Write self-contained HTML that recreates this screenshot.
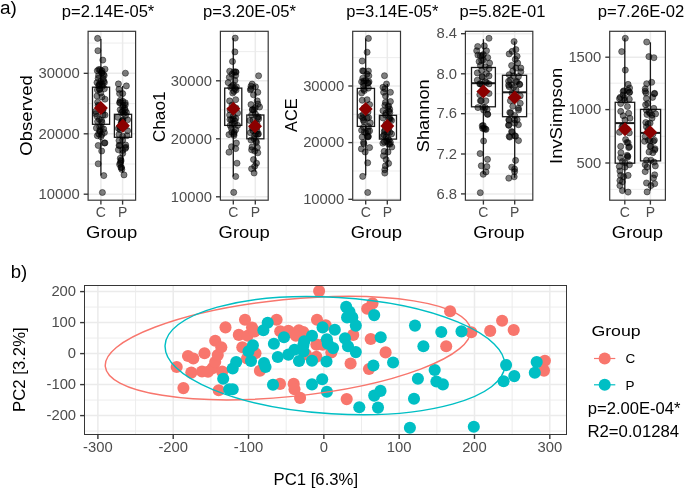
<!DOCTYPE html><html><head><meta charset="utf-8"><style>html,body{margin:0;padding:0;background:#fff;overflow:hidden}svg{display:block;will-change:transform}text{font-family:"Liberation Sans",sans-serif}</style></head><body>
<svg width="685" height="490" viewBox="0 0 685 490" font-family="Liberation Sans, sans-serif">
<rect width="685" height="490" fill="#fff"/>
<text x="0.05" y="13.70" font-size="18" fill="#000" text-anchor="start" textLength="16.87" lengthAdjust="spacingAndGlyphs" >a)</text>
<text x="10.69" y="278.40" font-size="18" fill="#000" text-anchor="start" textLength="16.50" lengthAdjust="spacingAndGlyphs" >b)</text>
<line x1="88.1" x2="135.6" y1="164.0" y2="164.0" stroke="#EBEBEB" stroke-width="0.9"/>
<line x1="88.1" x2="135.6" y1="103.6" y2="103.6" stroke="#EBEBEB" stroke-width="0.9"/>
<line x1="88.1" x2="135.6" y1="43.1" y2="43.1" stroke="#EBEBEB" stroke-width="0.9"/>
<line x1="88.1" x2="135.6" y1="194.2" y2="194.2" stroke="#EBEBEB" stroke-width="1.5"/>
<line x1="88.1" x2="135.6" y1="133.8" y2="133.8" stroke="#EBEBEB" stroke-width="1.5"/>
<line x1="88.1" x2="135.6" y1="73.35" y2="73.35" stroke="#EBEBEB" stroke-width="1.5"/>
<line x1="100.9" x2="100.9" y1="31.3" y2="200.2" stroke="#EBEBEB" stroke-width="1.5"/>
<line x1="122.6" x2="122.6" y1="31.3" y2="200.2" stroke="#EBEBEB" stroke-width="1.5"/>
<line x1="100.9" x2="100.9" y1="39" y2="87.2" stroke="#1a1a1a" stroke-width="1.3"/>
<line x1="100.9" x2="100.9" y1="124.3" y2="175.6" stroke="#1a1a1a" stroke-width="1.3"/>
<rect x="92.5" y="87.2" width="17.10" height="37.10" fill="#fff" stroke="#1a1a1a" stroke-width="1.3"/>
<line x1="122.6" x2="122.6" y1="86" y2="114.3" stroke="#1a1a1a" stroke-width="1.3"/>
<line x1="122.6" x2="122.6" y1="137.3" y2="172.6" stroke="#1a1a1a" stroke-width="1.3"/>
<rect x="114.4" y="114.3" width="17.20" height="23.00" fill="#fff" stroke="#1a1a1a" stroke-width="1.3"/>
<circle cx="101.7" cy="73.0" r="3.05" fill="#000" fill-opacity="0.5" stroke="#000" stroke-opacity="0.5" stroke-width="0.9"/>
<circle cx="97.6" cy="38.4" r="3.05" fill="#000" fill-opacity="0.5" stroke="#000" stroke-opacity="0.5" stroke-width="0.9"/>
<circle cx="97.9" cy="50.7" r="3.05" fill="#000" fill-opacity="0.5" stroke="#000" stroke-opacity="0.5" stroke-width="0.9"/>
<circle cx="102.8" cy="60.1" r="3.05" fill="#000" fill-opacity="0.5" stroke="#000" stroke-opacity="0.5" stroke-width="0.9"/>
<circle cx="97.3" cy="70.8" r="3.05" fill="#000" fill-opacity="0.5" stroke="#000" stroke-opacity="0.5" stroke-width="0.9"/>
<circle cx="100.1" cy="69.8" r="3.05" fill="#000" fill-opacity="0.5" stroke="#000" stroke-opacity="0.5" stroke-width="0.9"/>
<circle cx="105.0" cy="69.2" r="3.05" fill="#000" fill-opacity="0.5" stroke="#000" stroke-opacity="0.5" stroke-width="0.9"/>
<circle cx="101.9" cy="72.8" r="3.05" fill="#000" fill-opacity="0.5" stroke="#000" stroke-opacity="0.5" stroke-width="0.9"/>
<circle cx="98.2" cy="78.4" r="3.05" fill="#000" fill-opacity="0.5" stroke="#000" stroke-opacity="0.5" stroke-width="0.9"/>
<circle cx="103.1" cy="79.0" r="3.05" fill="#000" fill-opacity="0.5" stroke="#000" stroke-opacity="0.5" stroke-width="0.9"/>
<circle cx="97.0" cy="82.6" r="3.05" fill="#000" fill-opacity="0.5" stroke="#000" stroke-opacity="0.5" stroke-width="0.9"/>
<circle cx="100.7" cy="81.4" r="3.05" fill="#000" fill-opacity="0.5" stroke="#000" stroke-opacity="0.5" stroke-width="0.9"/>
<circle cx="104.4" cy="82.6" r="3.05" fill="#000" fill-opacity="0.5" stroke="#000" stroke-opacity="0.5" stroke-width="0.9"/>
<circle cx="99.4" cy="119.4" r="3.05" fill="#000" fill-opacity="0.5" stroke="#000" stroke-opacity="0.5" stroke-width="0.9"/>
<circle cx="98.8" cy="85.7" r="3.05" fill="#000" fill-opacity="0.5" stroke="#000" stroke-opacity="0.5" stroke-width="0.9"/>
<circle cx="102.5" cy="86.3" r="3.05" fill="#000" fill-opacity="0.5" stroke="#000" stroke-opacity="0.5" stroke-width="0.9"/>
<circle cx="124.6" cy="108.4" r="3.05" fill="#000" fill-opacity="0.5" stroke="#000" stroke-opacity="0.5" stroke-width="0.9"/>
<circle cx="103.4" cy="74.6" r="3.05" fill="#000" fill-opacity="0.5" stroke="#000" stroke-opacity="0.5" stroke-width="0.9"/>
<circle cx="99.5" cy="89.4" r="3.05" fill="#000" fill-opacity="0.5" stroke="#000" stroke-opacity="0.5" stroke-width="0.9"/>
<circle cx="104.4" cy="88.8" r="3.05" fill="#000" fill-opacity="0.5" stroke="#000" stroke-opacity="0.5" stroke-width="0.9"/>
<circle cx="100.7" cy="93.0" r="3.05" fill="#000" fill-opacity="0.5" stroke="#000" stroke-opacity="0.5" stroke-width="0.9"/>
<circle cx="120.2" cy="109.7" r="3.05" fill="#000" fill-opacity="0.5" stroke="#000" stroke-opacity="0.5" stroke-width="0.9"/>
<circle cx="102.2" cy="84.5" r="3.05" fill="#000" fill-opacity="0.5" stroke="#000" stroke-opacity="0.5" stroke-width="0.9"/>
<circle cx="105.0" cy="99.2" r="3.05" fill="#000" fill-opacity="0.5" stroke="#000" stroke-opacity="0.5" stroke-width="0.9"/>
<circle cx="97.6" cy="102.2" r="3.05" fill="#000" fill-opacity="0.5" stroke="#000" stroke-opacity="0.5" stroke-width="0.9"/>
<circle cx="95.8" cy="111.4" r="3.05" fill="#000" fill-opacity="0.5" stroke="#000" stroke-opacity="0.5" stroke-width="0.9"/>
<circle cx="123.6" cy="113.6" r="3.05" fill="#000" fill-opacity="0.5" stroke="#000" stroke-opacity="0.5" stroke-width="0.9"/>
<circle cx="97.0" cy="116.3" r="3.05" fill="#000" fill-opacity="0.5" stroke="#000" stroke-opacity="0.5" stroke-width="0.9"/>
<circle cx="105.0" cy="115.1" r="3.05" fill="#000" fill-opacity="0.5" stroke="#000" stroke-opacity="0.5" stroke-width="0.9"/>
<circle cx="95.8" cy="113.7" r="3.05" fill="#000" fill-opacity="0.5" stroke="#000" stroke-opacity="0.5" stroke-width="0.9"/>
<circle cx="103.1" cy="114.9" r="3.05" fill="#000" fill-opacity="0.5" stroke="#000" stroke-opacity="0.5" stroke-width="0.9"/>
<circle cx="97.6" cy="121.6" r="3.05" fill="#000" fill-opacity="0.5" stroke="#000" stroke-opacity="0.5" stroke-width="0.9"/>
<circle cx="122.2" cy="120.9" r="3.05" fill="#000" fill-opacity="0.5" stroke="#000" stroke-opacity="0.5" stroke-width="0.9"/>
<circle cx="122.3" cy="120.7" r="3.05" fill="#000" fill-opacity="0.5" stroke="#000" stroke-opacity="0.5" stroke-width="0.9"/>
<circle cx="122.8" cy="101.3" r="3.05" fill="#000" fill-opacity="0.5" stroke="#000" stroke-opacity="0.5" stroke-width="0.9"/>
<circle cx="101.9" cy="122.2" r="3.05" fill="#000" fill-opacity="0.5" stroke="#000" stroke-opacity="0.5" stroke-width="0.9"/>
<circle cx="96.4" cy="128.1" r="3.05" fill="#000" fill-opacity="0.5" stroke="#000" stroke-opacity="0.5" stroke-width="0.9"/>
<circle cx="101.3" cy="127.1" r="3.05" fill="#000" fill-opacity="0.5" stroke="#000" stroke-opacity="0.5" stroke-width="0.9"/>
<circle cx="103.7" cy="129.0" r="3.05" fill="#000" fill-opacity="0.5" stroke="#000" stroke-opacity="0.5" stroke-width="0.9"/>
<circle cx="100.1" cy="131.4" r="3.05" fill="#000" fill-opacity="0.5" stroke="#000" stroke-opacity="0.5" stroke-width="0.9"/>
<circle cx="104.4" cy="132.6" r="3.05" fill="#000" fill-opacity="0.5" stroke="#000" stroke-opacity="0.5" stroke-width="0.9"/>
<circle cx="97.3" cy="135.7" r="3.05" fill="#000" fill-opacity="0.5" stroke="#000" stroke-opacity="0.5" stroke-width="0.9"/>
<circle cx="101.9" cy="134.5" r="3.05" fill="#000" fill-opacity="0.5" stroke="#000" stroke-opacity="0.5" stroke-width="0.9"/>
<circle cx="121.3" cy="122.6" r="3.05" fill="#000" fill-opacity="0.5" stroke="#000" stroke-opacity="0.5" stroke-width="0.9"/>
<circle cx="104.4" cy="143.0" r="3.05" fill="#000" fill-opacity="0.5" stroke="#000" stroke-opacity="0.5" stroke-width="0.9"/>
<circle cx="98.2" cy="145.5" r="3.05" fill="#000" fill-opacity="0.5" stroke="#000" stroke-opacity="0.5" stroke-width="0.9"/>
<circle cx="101.7" cy="151.0" r="3.05" fill="#000" fill-opacity="0.5" stroke="#000" stroke-opacity="0.5" stroke-width="0.9"/>
<circle cx="98.2" cy="163.8" r="3.05" fill="#000" fill-opacity="0.5" stroke="#000" stroke-opacity="0.5" stroke-width="0.9"/>
<circle cx="119.8" cy="127.0" r="3.05" fill="#000" fill-opacity="0.5" stroke="#000" stroke-opacity="0.5" stroke-width="0.9"/>
<circle cx="102.9" cy="110.5" r="3.05" fill="#000" fill-opacity="0.5" stroke="#000" stroke-opacity="0.5" stroke-width="0.9"/>
<circle cx="104.9" cy="142.9" r="3.05" fill="#000" fill-opacity="0.5" stroke="#000" stroke-opacity="0.5" stroke-width="0.9"/>
<circle cx="103.8" cy="175.6" r="3.05" fill="#000" fill-opacity="0.5" stroke="#000" stroke-opacity="0.5" stroke-width="0.9"/>
<circle cx="102.4" cy="192.5" r="3.05" fill="#000" fill-opacity="0.5" stroke="#000" stroke-opacity="0.5" stroke-width="0.9"/>
<circle cx="99.0" cy="106.0" r="3.05" fill="#000" fill-opacity="0.5" stroke="#000" stroke-opacity="0.5" stroke-width="0.9"/>
<circle cx="103.0" cy="109.0" r="3.05" fill="#000" fill-opacity="0.5" stroke="#000" stroke-opacity="0.5" stroke-width="0.9"/>
<circle cx="97.0" cy="96.0" r="3.05" fill="#000" fill-opacity="0.5" stroke="#000" stroke-opacity="0.5" stroke-width="0.9"/>
<circle cx="102.0" cy="97.0" r="3.05" fill="#000" fill-opacity="0.5" stroke="#000" stroke-opacity="0.5" stroke-width="0.9"/>
<circle cx="125.4" cy="73.2" r="3.05" fill="#000" fill-opacity="0.5" stroke="#000" stroke-opacity="0.5" stroke-width="0.9"/>
<circle cx="118.4" cy="83.9" r="3.05" fill="#000" fill-opacity="0.5" stroke="#000" stroke-opacity="0.5" stroke-width="0.9"/>
<circle cx="126.4" cy="85.9" r="3.05" fill="#000" fill-opacity="0.5" stroke="#000" stroke-opacity="0.5" stroke-width="0.9"/>
<circle cx="120.1" cy="129.7" r="3.05" fill="#000" fill-opacity="0.5" stroke="#000" stroke-opacity="0.5" stroke-width="0.9"/>
<circle cx="98.7" cy="133.9" r="3.05" fill="#000" fill-opacity="0.5" stroke="#000" stroke-opacity="0.5" stroke-width="0.9"/>
<circle cx="119.0" cy="89.4" r="3.05" fill="#000" fill-opacity="0.5" stroke="#000" stroke-opacity="0.5" stroke-width="0.9"/>
<circle cx="122.7" cy="93.6" r="3.05" fill="#000" fill-opacity="0.5" stroke="#000" stroke-opacity="0.5" stroke-width="0.9"/>
<circle cx="119.6" cy="93.6" r="3.05" fill="#000" fill-opacity="0.5" stroke="#000" stroke-opacity="0.5" stroke-width="0.9"/>
<circle cx="98.6" cy="75.5" r="3.05" fill="#000" fill-opacity="0.5" stroke="#000" stroke-opacity="0.5" stroke-width="0.9"/>
<circle cx="120.3" cy="100.4" r="3.05" fill="#000" fill-opacity="0.5" stroke="#000" stroke-opacity="0.5" stroke-width="0.9"/>
<circle cx="125.2" cy="102.8" r="3.05" fill="#000" fill-opacity="0.5" stroke="#000" stroke-opacity="0.5" stroke-width="0.9"/>
<circle cx="119.6" cy="102.8" r="3.05" fill="#000" fill-opacity="0.5" stroke="#000" stroke-opacity="0.5" stroke-width="0.9"/>
<circle cx="122.7" cy="107.1" r="3.05" fill="#000" fill-opacity="0.5" stroke="#000" stroke-opacity="0.5" stroke-width="0.9"/>
<circle cx="125.2" cy="110.2" r="3.05" fill="#000" fill-opacity="0.5" stroke="#000" stroke-opacity="0.5" stroke-width="0.9"/>
<circle cx="121.5" cy="112.6" r="3.05" fill="#000" fill-opacity="0.5" stroke="#000" stroke-opacity="0.5" stroke-width="0.9"/>
<circle cx="120.0" cy="102.4" r="3.05" fill="#000" fill-opacity="0.5" stroke="#000" stroke-opacity="0.5" stroke-width="0.9"/>
<circle cx="122.7" cy="111.2" r="3.05" fill="#000" fill-opacity="0.5" stroke="#000" stroke-opacity="0.5" stroke-width="0.9"/>
<circle cx="126.4" cy="112.4" r="3.05" fill="#000" fill-opacity="0.5" stroke="#000" stroke-opacity="0.5" stroke-width="0.9"/>
<circle cx="117.8" cy="117.3" r="3.05" fill="#000" fill-opacity="0.5" stroke="#000" stroke-opacity="0.5" stroke-width="0.9"/>
<circle cx="127.6" cy="119.8" r="3.05" fill="#000" fill-opacity="0.5" stroke="#000" stroke-opacity="0.5" stroke-width="0.9"/>
<circle cx="118.4" cy="128.4" r="3.05" fill="#000" fill-opacity="0.5" stroke="#000" stroke-opacity="0.5" stroke-width="0.9"/>
<circle cx="127.6" cy="130.8" r="3.05" fill="#000" fill-opacity="0.5" stroke="#000" stroke-opacity="0.5" stroke-width="0.9"/>
<circle cx="119.0" cy="134.5" r="3.05" fill="#000" fill-opacity="0.5" stroke="#000" stroke-opacity="0.5" stroke-width="0.9"/>
<circle cx="99.7" cy="130.5" r="3.05" fill="#000" fill-opacity="0.5" stroke="#000" stroke-opacity="0.5" stroke-width="0.9"/>
<circle cx="99.7" cy="89.3" r="3.05" fill="#000" fill-opacity="0.5" stroke="#000" stroke-opacity="0.5" stroke-width="0.9"/>
<circle cx="100.9" cy="136.7" r="3.05" fill="#000" fill-opacity="0.5" stroke="#000" stroke-opacity="0.5" stroke-width="0.9"/>
<circle cx="122.7" cy="136.3" r="3.05" fill="#000" fill-opacity="0.5" stroke="#000" stroke-opacity="0.5" stroke-width="0.9"/>
<circle cx="125.3" cy="126.1" r="3.05" fill="#000" fill-opacity="0.5" stroke="#000" stroke-opacity="0.5" stroke-width="0.9"/>
<circle cx="103.8" cy="81.2" r="3.05" fill="#000" fill-opacity="0.5" stroke="#000" stroke-opacity="0.5" stroke-width="0.9"/>
<circle cx="127.0" cy="135.7" r="3.05" fill="#000" fill-opacity="0.5" stroke="#000" stroke-opacity="0.5" stroke-width="0.9"/>
<circle cx="100.0" cy="84.2" r="3.05" fill="#000" fill-opacity="0.5" stroke="#000" stroke-opacity="0.5" stroke-width="0.9"/>
<circle cx="104.2" cy="75.5" r="3.05" fill="#000" fill-opacity="0.5" stroke="#000" stroke-opacity="0.5" stroke-width="0.9"/>
<circle cx="123.2" cy="105.3" r="3.05" fill="#000" fill-opacity="0.5" stroke="#000" stroke-opacity="0.5" stroke-width="0.9"/>
<circle cx="97.4" cy="90.0" r="3.05" fill="#000" fill-opacity="0.5" stroke="#000" stroke-opacity="0.5" stroke-width="0.9"/>
<circle cx="119.0" cy="140.6" r="3.05" fill="#000" fill-opacity="0.5" stroke="#000" stroke-opacity="0.5" stroke-width="0.9"/>
<circle cx="99.7" cy="126.7" r="3.05" fill="#000" fill-opacity="0.5" stroke="#000" stroke-opacity="0.5" stroke-width="0.9"/>
<circle cx="101.5" cy="120.4" r="3.05" fill="#000" fill-opacity="0.5" stroke="#000" stroke-opacity="0.5" stroke-width="0.9"/>
<circle cx="122.7" cy="140.0" r="3.05" fill="#000" fill-opacity="0.5" stroke="#000" stroke-opacity="0.5" stroke-width="0.9"/>
<circle cx="119.6" cy="145.5" r="3.05" fill="#000" fill-opacity="0.5" stroke="#000" stroke-opacity="0.5" stroke-width="0.9"/>
<circle cx="121.3" cy="127.2" r="3.05" fill="#000" fill-opacity="0.5" stroke="#000" stroke-opacity="0.5" stroke-width="0.9"/>
<circle cx="125.8" cy="147.3" r="3.05" fill="#000" fill-opacity="0.5" stroke="#000" stroke-opacity="0.5" stroke-width="0.9"/>
<circle cx="125.6" cy="115.4" r="3.05" fill="#000" fill-opacity="0.5" stroke="#000" stroke-opacity="0.5" stroke-width="0.9"/>
<circle cx="118.4" cy="149.8" r="3.05" fill="#000" fill-opacity="0.5" stroke="#000" stroke-opacity="0.5" stroke-width="0.9"/>
<circle cx="125.3" cy="104.8" r="3.05" fill="#000" fill-opacity="0.5" stroke="#000" stroke-opacity="0.5" stroke-width="0.9"/>
<circle cx="122.7" cy="150.4" r="3.05" fill="#000" fill-opacity="0.5" stroke="#000" stroke-opacity="0.5" stroke-width="0.9"/>
<circle cx="122.7" cy="153.4" r="3.05" fill="#000" fill-opacity="0.5" stroke="#000" stroke-opacity="0.5" stroke-width="0.9"/>
<circle cx="120.3" cy="158.3" r="3.05" fill="#000" fill-opacity="0.5" stroke="#000" stroke-opacity="0.5" stroke-width="0.9"/>
<circle cx="120.9" cy="161.4" r="3.05" fill="#000" fill-opacity="0.5" stroke="#000" stroke-opacity="0.5" stroke-width="0.9"/>
<circle cx="119.6" cy="164.4" r="3.05" fill="#000" fill-opacity="0.5" stroke="#000" stroke-opacity="0.5" stroke-width="0.9"/>
<circle cx="121.5" cy="167.5" r="3.05" fill="#000" fill-opacity="0.5" stroke="#000" stroke-opacity="0.5" stroke-width="0.9"/>
<circle cx="121.8" cy="169.4" r="3.05" fill="#000" fill-opacity="0.5" stroke="#000" stroke-opacity="0.5" stroke-width="0.9"/>
<circle cx="124.0" cy="174.9" r="3.05" fill="#000" fill-opacity="0.5" stroke="#000" stroke-opacity="0.5" stroke-width="0.9"/>
<circle cx="102.0" cy="70.9" r="3.05" fill="#000" fill-opacity="0.5" stroke="#000" stroke-opacity="0.5" stroke-width="0.9"/>
<circle cx="119.1" cy="145.4" r="3.05" fill="#000" fill-opacity="0.5" stroke="#000" stroke-opacity="0.5" stroke-width="0.9"/>
<circle cx="125.4" cy="148.4" r="3.05" fill="#000" fill-opacity="0.5" stroke="#000" stroke-opacity="0.5" stroke-width="0.9"/>
<circle cx="98.8" cy="69.5" r="3.05" fill="#000" fill-opacity="0.5" stroke="#000" stroke-opacity="0.5" stroke-width="0.9"/>
<circle cx="98.8" cy="84.9" r="3.05" fill="#000" fill-opacity="0.5" stroke="#000" stroke-opacity="0.5" stroke-width="0.9"/>
<circle cx="125.7" cy="145.0" r="3.05" fill="#000" fill-opacity="0.5" stroke="#000" stroke-opacity="0.5" stroke-width="0.9"/>
<circle cx="121.0" cy="160.1" r="3.05" fill="#000" fill-opacity="0.5" stroke="#000" stroke-opacity="0.5" stroke-width="0.9"/>
<circle cx="120.3" cy="163.1" r="3.05" fill="#000" fill-opacity="0.5" stroke="#000" stroke-opacity="0.5" stroke-width="0.9"/>
<circle cx="121.0" cy="167.5" r="3.05" fill="#000" fill-opacity="0.5" stroke="#000" stroke-opacity="0.5" stroke-width="0.9"/>
<circle cx="123.0" cy="120.0" r="3.05" fill="#000" fill-opacity="0.5" stroke="#000" stroke-opacity="0.5" stroke-width="0.9"/>
<circle cx="98.0" cy="105.3" r="3.05" fill="#000" fill-opacity="0.5" stroke="#000" stroke-opacity="0.5" stroke-width="0.9"/>
<circle cx="121.0" cy="124.0" r="3.05" fill="#000" fill-opacity="0.5" stroke="#000" stroke-opacity="0.5" stroke-width="0.9"/>
<path d="M100.9,101.0 L107.9,108.0 L100.9,115.0 L93.9,108.0 Z" fill="#8B0000"/>
<path d="M122.9,118.75 L129.9,125.75 L122.9,132.75 L115.9,125.75 Z" fill="#8B0000"/>
<rect x="88.1" y="31.3" width="47.50" height="168.90" fill="none" stroke="#363636" stroke-width="1.2"/>
<line x1="83.70" x2="88.1" y1="194.2" y2="194.2" stroke="#363636" stroke-width="1.35"/>
<text x="79.70" y="198.90" font-size="14.8" fill="#4D4D4D" text-anchor="end" >10000</text>
<line x1="83.70" x2="88.1" y1="133.8" y2="133.8" stroke="#363636" stroke-width="1.35"/>
<text x="79.70" y="138.50" font-size="14.8" fill="#4D4D4D" text-anchor="end" >20000</text>
<line x1="83.70" x2="88.1" y1="73.35" y2="73.35" stroke="#363636" stroke-width="1.35"/>
<text x="79.70" y="78.05" font-size="14.8" fill="#4D4D4D" text-anchor="end" >30000</text>
<line x1="100.9" x2="100.9" y1="200.2" y2="204.60" stroke="#363636" stroke-width="1.35"/>
<text x="100.90" y="217.20" font-size="14" fill="#4D4D4D" text-anchor="middle" >C</text>
<line x1="122.6" x2="122.6" y1="200.2" y2="204.60" stroke="#363636" stroke-width="1.35"/>
<text x="122.60" y="217.20" font-size="14" fill="#4D4D4D" text-anchor="middle" >P</text>
<text x="86.13" y="238.00" font-size="16.3" fill="#000" text-anchor="start" textLength="51.25" lengthAdjust="spacingAndGlyphs" >Group</text>
<text x="61.82" y="17.40" font-size="16.3" fill="#000" text-anchor="start" textLength="92.47" lengthAdjust="spacingAndGlyphs" >p=2.14E-05*</text>
<text x="31.80" y="155.74" font-size="16.3" fill="#000" text-anchor="start" textLength="80.55" lengthAdjust="spacingAndGlyphs" transform="rotate(-90 31.80 155.74)" >Observed</text>
<line x1="220.4" x2="268.2" y1="167.8" y2="167.8" stroke="#EBEBEB" stroke-width="0.9"/>
<line x1="220.4" x2="268.2" y1="109.8" y2="109.8" stroke="#EBEBEB" stroke-width="0.9"/>
<line x1="220.4" x2="268.2" y1="51.6" y2="51.6" stroke="#EBEBEB" stroke-width="0.9"/>
<line x1="220.4" x2="268.2" y1="196.8" y2="196.8" stroke="#EBEBEB" stroke-width="1.5"/>
<line x1="220.4" x2="268.2" y1="138.8" y2="138.8" stroke="#EBEBEB" stroke-width="1.5"/>
<line x1="220.4" x2="268.2" y1="80.8" y2="80.8" stroke="#EBEBEB" stroke-width="1.5"/>
<line x1="233.3" x2="233.3" y1="31.3" y2="200.2" stroke="#EBEBEB" stroke-width="1.5"/>
<line x1="255.3" x2="255.3" y1="31.3" y2="200.2" stroke="#EBEBEB" stroke-width="1.5"/>
<line x1="233.3" x2="233.3" y1="38.1" y2="88.1" stroke="#1a1a1a" stroke-width="1.3"/>
<line x1="233.3" x2="233.3" y1="125.4" y2="176.5" stroke="#1a1a1a" stroke-width="1.3"/>
<rect x="224.7" y="88.1" width="17.10" height="37.30" fill="#fff" stroke="#1a1a1a" stroke-width="1.3"/>
<line x1="255.3" x2="255.3" y1="85" y2="115" stroke="#1a1a1a" stroke-width="1.3"/>
<line x1="255.3" x2="255.3" y1="138.8" y2="171.8" stroke="#1a1a1a" stroke-width="1.3"/>
<rect x="246.8" y="115" width="17.10" height="23.80" fill="#fff" stroke="#1a1a1a" stroke-width="1.3"/>
<circle cx="235.2" cy="38.1" r="3.05" fill="#000" fill-opacity="0.5" stroke="#000" stroke-opacity="0.5" stroke-width="0.9"/>
<circle cx="234.9" cy="51.9" r="3.05" fill="#000" fill-opacity="0.5" stroke="#000" stroke-opacity="0.5" stroke-width="0.9"/>
<circle cx="232.5" cy="61.5" r="3.05" fill="#000" fill-opacity="0.5" stroke="#000" stroke-opacity="0.5" stroke-width="0.9"/>
<circle cx="257.8" cy="134.4" r="3.05" fill="#000" fill-opacity="0.5" stroke="#000" stroke-opacity="0.5" stroke-width="0.9"/>
<circle cx="229.7" cy="71.2" r="3.05" fill="#000" fill-opacity="0.5" stroke="#000" stroke-opacity="0.5" stroke-width="0.9"/>
<circle cx="233.9" cy="71.8" r="3.05" fill="#000" fill-opacity="0.5" stroke="#000" stroke-opacity="0.5" stroke-width="0.9"/>
<circle cx="229.3" cy="77.3" r="3.05" fill="#000" fill-opacity="0.5" stroke="#000" stroke-opacity="0.5" stroke-width="0.9"/>
<circle cx="234.9" cy="80.4" r="3.05" fill="#000" fill-opacity="0.5" stroke="#000" stroke-opacity="0.5" stroke-width="0.9"/>
<circle cx="228.2" cy="82.6" r="3.05" fill="#000" fill-opacity="0.5" stroke="#000" stroke-opacity="0.5" stroke-width="0.9"/>
<circle cx="232.3" cy="123.4" r="3.05" fill="#000" fill-opacity="0.5" stroke="#000" stroke-opacity="0.5" stroke-width="0.9"/>
<circle cx="233.4" cy="85.0" r="3.05" fill="#000" fill-opacity="0.5" stroke="#000" stroke-opacity="0.5" stroke-width="0.9"/>
<circle cx="230.8" cy="87.4" r="3.05" fill="#000" fill-opacity="0.5" stroke="#000" stroke-opacity="0.5" stroke-width="0.9"/>
<circle cx="236.4" cy="86.8" r="3.05" fill="#000" fill-opacity="0.5" stroke="#000" stroke-opacity="0.5" stroke-width="0.9"/>
<circle cx="232.7" cy="93.0" r="3.05" fill="#000" fill-opacity="0.5" stroke="#000" stroke-opacity="0.5" stroke-width="0.9"/>
<circle cx="229.6" cy="100.9" r="3.05" fill="#000" fill-opacity="0.5" stroke="#000" stroke-opacity="0.5" stroke-width="0.9"/>
<circle cx="235.7" cy="99.7" r="3.05" fill="#000" fill-opacity="0.5" stroke="#000" stroke-opacity="0.5" stroke-width="0.9"/>
<circle cx="237.6" cy="113.1" r="3.05" fill="#000" fill-opacity="0.5" stroke="#000" stroke-opacity="0.5" stroke-width="0.9"/>
<circle cx="229.6" cy="115.0" r="3.05" fill="#000" fill-opacity="0.5" stroke="#000" stroke-opacity="0.5" stroke-width="0.9"/>
<circle cx="254.1" cy="109.8" r="3.05" fill="#000" fill-opacity="0.5" stroke="#000" stroke-opacity="0.5" stroke-width="0.9"/>
<circle cx="234.0" cy="135.4" r="3.05" fill="#000" fill-opacity="0.5" stroke="#000" stroke-opacity="0.5" stroke-width="0.9"/>
<circle cx="233.3" cy="116.2" r="3.05" fill="#000" fill-opacity="0.5" stroke="#000" stroke-opacity="0.5" stroke-width="0.9"/>
<circle cx="231.5" cy="119.9" r="3.05" fill="#000" fill-opacity="0.5" stroke="#000" stroke-opacity="0.5" stroke-width="0.9"/>
<circle cx="235.1" cy="121.1" r="3.05" fill="#000" fill-opacity="0.5" stroke="#000" stroke-opacity="0.5" stroke-width="0.9"/>
<circle cx="234.5" cy="123.7" r="3.05" fill="#000" fill-opacity="0.5" stroke="#000" stroke-opacity="0.5" stroke-width="0.9"/>
<circle cx="252.0" cy="147.0" r="3.05" fill="#000" fill-opacity="0.5" stroke="#000" stroke-opacity="0.5" stroke-width="0.9"/>
<circle cx="230.2" cy="125.4" r="3.05" fill="#000" fill-opacity="0.5" stroke="#000" stroke-opacity="0.5" stroke-width="0.9"/>
<circle cx="237.6" cy="125.4" r="3.05" fill="#000" fill-opacity="0.5" stroke="#000" stroke-opacity="0.5" stroke-width="0.9"/>
<circle cx="231.5" cy="128.4" r="3.05" fill="#000" fill-opacity="0.5" stroke="#000" stroke-opacity="0.5" stroke-width="0.9"/>
<circle cx="236.0" cy="72.3" r="3.05" fill="#000" fill-opacity="0.5" stroke="#000" stroke-opacity="0.5" stroke-width="0.9"/>
<circle cx="235.7" cy="129.7" r="3.05" fill="#000" fill-opacity="0.5" stroke="#000" stroke-opacity="0.5" stroke-width="0.9"/>
<circle cx="232.0" cy="74.3" r="3.05" fill="#000" fill-opacity="0.5" stroke="#000" stroke-opacity="0.5" stroke-width="0.9"/>
<circle cx="257.3" cy="147.5" r="3.05" fill="#000" fill-opacity="0.5" stroke="#000" stroke-opacity="0.5" stroke-width="0.9"/>
<circle cx="253.0" cy="130.7" r="3.05" fill="#000" fill-opacity="0.5" stroke="#000" stroke-opacity="0.5" stroke-width="0.9"/>
<circle cx="256.6" cy="127.3" r="3.05" fill="#000" fill-opacity="0.5" stroke="#000" stroke-opacity="0.5" stroke-width="0.9"/>
<circle cx="229.0" cy="134.6" r="3.05" fill="#000" fill-opacity="0.5" stroke="#000" stroke-opacity="0.5" stroke-width="0.9"/>
<circle cx="233.9" cy="133.9" r="3.05" fill="#000" fill-opacity="0.5" stroke="#000" stroke-opacity="0.5" stroke-width="0.9"/>
<circle cx="235.6" cy="75.5" r="3.05" fill="#000" fill-opacity="0.5" stroke="#000" stroke-opacity="0.5" stroke-width="0.9"/>
<circle cx="258.0" cy="104.1" r="3.05" fill="#000" fill-opacity="0.5" stroke="#000" stroke-opacity="0.5" stroke-width="0.9"/>
<circle cx="257.5" cy="117.7" r="3.05" fill="#000" fill-opacity="0.5" stroke="#000" stroke-opacity="0.5" stroke-width="0.9"/>
<circle cx="252.5" cy="109.6" r="3.05" fill="#000" fill-opacity="0.5" stroke="#000" stroke-opacity="0.5" stroke-width="0.9"/>
<circle cx="236.4" cy="143.1" r="3.05" fill="#000" fill-opacity="0.5" stroke="#000" stroke-opacity="0.5" stroke-width="0.9"/>
<circle cx="231.5" cy="146.7" r="3.05" fill="#000" fill-opacity="0.5" stroke="#000" stroke-opacity="0.5" stroke-width="0.9"/>
<circle cx="235.7" cy="148.6" r="3.05" fill="#000" fill-opacity="0.5" stroke="#000" stroke-opacity="0.5" stroke-width="0.9"/>
<circle cx="252.5" cy="109.8" r="3.05" fill="#000" fill-opacity="0.5" stroke="#000" stroke-opacity="0.5" stroke-width="0.9"/>
<circle cx="229.0" cy="152.2" r="3.05" fill="#000" fill-opacity="0.5" stroke="#000" stroke-opacity="0.5" stroke-width="0.9"/>
<circle cx="237.0" cy="163.2" r="3.05" fill="#000" fill-opacity="0.5" stroke="#000" stroke-opacity="0.5" stroke-width="0.9"/>
<circle cx="235.7" cy="176.5" r="3.05" fill="#000" fill-opacity="0.5" stroke="#000" stroke-opacity="0.5" stroke-width="0.9"/>
<circle cx="233.9" cy="91.4" r="3.05" fill="#000" fill-opacity="0.5" stroke="#000" stroke-opacity="0.5" stroke-width="0.9"/>
<circle cx="229.9" cy="119.5" r="3.05" fill="#000" fill-opacity="0.5" stroke="#000" stroke-opacity="0.5" stroke-width="0.9"/>
<circle cx="233.7" cy="192.4" r="3.05" fill="#000" fill-opacity="0.5" stroke="#000" stroke-opacity="0.5" stroke-width="0.9"/>
<circle cx="232.1" cy="86.2" r="3.05" fill="#000" fill-opacity="0.5" stroke="#000" stroke-opacity="0.5" stroke-width="0.9"/>
<circle cx="232.0" cy="105.0" r="3.05" fill="#000" fill-opacity="0.5" stroke="#000" stroke-opacity="0.5" stroke-width="0.9"/>
<circle cx="236.0" cy="108.0" r="3.05" fill="#000" fill-opacity="0.5" stroke="#000" stroke-opacity="0.5" stroke-width="0.9"/>
<circle cx="230.0" cy="110.0" r="3.05" fill="#000" fill-opacity="0.5" stroke="#000" stroke-opacity="0.5" stroke-width="0.9"/>
<circle cx="258.6" cy="75.8" r="3.05" fill="#000" fill-opacity="0.5" stroke="#000" stroke-opacity="0.5" stroke-width="0.9"/>
<circle cx="252.1" cy="84.1" r="3.05" fill="#000" fill-opacity="0.5" stroke="#000" stroke-opacity="0.5" stroke-width="0.9"/>
<circle cx="234.2" cy="132.3" r="3.05" fill="#000" fill-opacity="0.5" stroke="#000" stroke-opacity="0.5" stroke-width="0.9"/>
<circle cx="233.3" cy="119.0" r="3.05" fill="#000" fill-opacity="0.5" stroke="#000" stroke-opacity="0.5" stroke-width="0.9"/>
<circle cx="250.9" cy="88.7" r="3.05" fill="#000" fill-opacity="0.5" stroke="#000" stroke-opacity="0.5" stroke-width="0.9"/>
<circle cx="255.5" cy="86.8" r="3.05" fill="#000" fill-opacity="0.5" stroke="#000" stroke-opacity="0.5" stroke-width="0.9"/>
<circle cx="251.0" cy="86.2" r="3.05" fill="#000" fill-opacity="0.5" stroke="#000" stroke-opacity="0.5" stroke-width="0.9"/>
<circle cx="250.4" cy="89.9" r="3.05" fill="#000" fill-opacity="0.5" stroke="#000" stroke-opacity="0.5" stroke-width="0.9"/>
<circle cx="257.8" cy="92.3" r="3.05" fill="#000" fill-opacity="0.5" stroke="#000" stroke-opacity="0.5" stroke-width="0.9"/>
<circle cx="253.5" cy="94.8" r="3.05" fill="#000" fill-opacity="0.5" stroke="#000" stroke-opacity="0.5" stroke-width="0.9"/>
<circle cx="257.2" cy="100.9" r="3.05" fill="#000" fill-opacity="0.5" stroke="#000" stroke-opacity="0.5" stroke-width="0.9"/>
<circle cx="258.6" cy="118.9" r="3.05" fill="#000" fill-opacity="0.5" stroke="#000" stroke-opacity="0.5" stroke-width="0.9"/>
<circle cx="235.7" cy="71.8" r="3.05" fill="#000" fill-opacity="0.5" stroke="#000" stroke-opacity="0.5" stroke-width="0.9"/>
<circle cx="236.1" cy="90.0" r="3.05" fill="#000" fill-opacity="0.5" stroke="#000" stroke-opacity="0.5" stroke-width="0.9"/>
<circle cx="251.0" cy="104.6" r="3.05" fill="#000" fill-opacity="0.5" stroke="#000" stroke-opacity="0.5" stroke-width="0.9"/>
<circle cx="257.1" cy="131.1" r="3.05" fill="#000" fill-opacity="0.5" stroke="#000" stroke-opacity="0.5" stroke-width="0.9"/>
<circle cx="259.6" cy="107.0" r="3.05" fill="#000" fill-opacity="0.5" stroke="#000" stroke-opacity="0.5" stroke-width="0.9"/>
<circle cx="255.3" cy="107.6" r="3.05" fill="#000" fill-opacity="0.5" stroke="#000" stroke-opacity="0.5" stroke-width="0.9"/>
<circle cx="251.6" cy="115.0" r="3.05" fill="#000" fill-opacity="0.5" stroke="#000" stroke-opacity="0.5" stroke-width="0.9"/>
<circle cx="256.6" cy="126.5" r="3.05" fill="#000" fill-opacity="0.5" stroke="#000" stroke-opacity="0.5" stroke-width="0.9"/>
<circle cx="258.4" cy="116.8" r="3.05" fill="#000" fill-opacity="0.5" stroke="#000" stroke-opacity="0.5" stroke-width="0.9"/>
<circle cx="249.8" cy="120.5" r="3.05" fill="#000" fill-opacity="0.5" stroke="#000" stroke-opacity="0.5" stroke-width="0.9"/>
<circle cx="250.4" cy="132.7" r="3.05" fill="#000" fill-opacity="0.5" stroke="#000" stroke-opacity="0.5" stroke-width="0.9"/>
<circle cx="254.7" cy="135.2" r="3.05" fill="#000" fill-opacity="0.5" stroke="#000" stroke-opacity="0.5" stroke-width="0.9"/>
<circle cx="253.9" cy="138.6" r="3.05" fill="#000" fill-opacity="0.5" stroke="#000" stroke-opacity="0.5" stroke-width="0.9"/>
<circle cx="256.3" cy="134.1" r="3.05" fill="#000" fill-opacity="0.5" stroke="#000" stroke-opacity="0.5" stroke-width="0.9"/>
<circle cx="258.4" cy="133.9" r="3.05" fill="#000" fill-opacity="0.5" stroke="#000" stroke-opacity="0.5" stroke-width="0.9"/>
<circle cx="251.0" cy="140.1" r="3.05" fill="#000" fill-opacity="0.5" stroke="#000" stroke-opacity="0.5" stroke-width="0.9"/>
<circle cx="235.8" cy="118.3" r="3.05" fill="#000" fill-opacity="0.5" stroke="#000" stroke-opacity="0.5" stroke-width="0.9"/>
<circle cx="255.9" cy="141.3" r="3.05" fill="#000" fill-opacity="0.5" stroke="#000" stroke-opacity="0.5" stroke-width="0.9"/>
<circle cx="256.5" cy="142.4" r="3.05" fill="#000" fill-opacity="0.5" stroke="#000" stroke-opacity="0.5" stroke-width="0.9"/>
<circle cx="235.2" cy="88.6" r="3.05" fill="#000" fill-opacity="0.5" stroke="#000" stroke-opacity="0.5" stroke-width="0.9"/>
<circle cx="251.6" cy="149.8" r="3.05" fill="#000" fill-opacity="0.5" stroke="#000" stroke-opacity="0.5" stroke-width="0.9"/>
<circle cx="231.8" cy="132.2" r="3.05" fill="#000" fill-opacity="0.5" stroke="#000" stroke-opacity="0.5" stroke-width="0.9"/>
<circle cx="254.7" cy="151.0" r="3.05" fill="#000" fill-opacity="0.5" stroke="#000" stroke-opacity="0.5" stroke-width="0.9"/>
<circle cx="257.8" cy="152.8" r="3.05" fill="#000" fill-opacity="0.5" stroke="#000" stroke-opacity="0.5" stroke-width="0.9"/>
<circle cx="253.5" cy="159.6" r="3.05" fill="#000" fill-opacity="0.5" stroke="#000" stroke-opacity="0.5" stroke-width="0.9"/>
<circle cx="256.5" cy="163.2" r="3.05" fill="#000" fill-opacity="0.5" stroke="#000" stroke-opacity="0.5" stroke-width="0.9"/>
<circle cx="251.6" cy="168.8" r="3.05" fill="#000" fill-opacity="0.5" stroke="#000" stroke-opacity="0.5" stroke-width="0.9"/>
<circle cx="254.7" cy="166.3" r="3.05" fill="#000" fill-opacity="0.5" stroke="#000" stroke-opacity="0.5" stroke-width="0.9"/>
<circle cx="254.1" cy="173.0" r="3.05" fill="#000" fill-opacity="0.5" stroke="#000" stroke-opacity="0.5" stroke-width="0.9"/>
<circle cx="253.0" cy="120.0" r="3.05" fill="#000" fill-opacity="0.5" stroke="#000" stroke-opacity="0.5" stroke-width="0.9"/>
<circle cx="255.4" cy="114.0" r="3.05" fill="#000" fill-opacity="0.5" stroke="#000" stroke-opacity="0.5" stroke-width="0.9"/>
<circle cx="257.0" cy="124.0" r="3.05" fill="#000" fill-opacity="0.5" stroke="#000" stroke-opacity="0.5" stroke-width="0.9"/>
<circle cx="252.0" cy="128.0" r="3.05" fill="#000" fill-opacity="0.5" stroke="#000" stroke-opacity="0.5" stroke-width="0.9"/>
<path d="M233.3,101.8 L240.3,108.8 L233.3,115.8 L226.3,108.8 Z" fill="#8B0000"/>
<path d="M255,119.2 L262.0,126.2 L255,133.2 L248.0,126.2 Z" fill="#8B0000"/>
<rect x="220.4" y="31.3" width="47.80" height="168.90" fill="none" stroke="#363636" stroke-width="1.2"/>
<line x1="216.00" x2="220.4" y1="196.8" y2="196.8" stroke="#363636" stroke-width="1.35"/>
<text x="212.00" y="201.50" font-size="14.8" fill="#4D4D4D" text-anchor="end" >10000</text>
<line x1="216.00" x2="220.4" y1="138.8" y2="138.8" stroke="#363636" stroke-width="1.35"/>
<text x="212.00" y="143.50" font-size="14.8" fill="#4D4D4D" text-anchor="end" >20000</text>
<line x1="216.00" x2="220.4" y1="80.8" y2="80.8" stroke="#363636" stroke-width="1.35"/>
<text x="212.00" y="85.50" font-size="14.8" fill="#4D4D4D" text-anchor="end" >30000</text>
<line x1="233.3" x2="233.3" y1="200.2" y2="204.60" stroke="#363636" stroke-width="1.35"/>
<text x="233.30" y="217.20" font-size="14" fill="#4D4D4D" text-anchor="middle" >C</text>
<line x1="255.3" x2="255.3" y1="200.2" y2="204.60" stroke="#363636" stroke-width="1.35"/>
<text x="255.30" y="217.20" font-size="14" fill="#4D4D4D" text-anchor="middle" >P</text>
<text x="218.58" y="238.00" font-size="16.3" fill="#000" text-anchor="start" textLength="51.25" lengthAdjust="spacingAndGlyphs" >Group</text>
<text x="203.02" y="17.40" font-size="16.3" fill="#000" text-anchor="start" textLength="92.98" lengthAdjust="spacingAndGlyphs" >p=3.20E-05*</text>
<text x="165.10" y="142.26" font-size="16.3" fill="#000" text-anchor="start" textLength="50.86" lengthAdjust="spacingAndGlyphs" transform="rotate(-90 165.10 142.26)" >Chao1</text>
<line x1="352.7" x2="400.5" y1="171" y2="171" stroke="#EBEBEB" stroke-width="0.9"/>
<line x1="352.7" x2="400.5" y1="114.3" y2="114.3" stroke="#EBEBEB" stroke-width="0.9"/>
<line x1="352.7" x2="400.5" y1="57.6" y2="57.6" stroke="#EBEBEB" stroke-width="0.9"/>
<line x1="352.7" x2="400.5" y1="199.3" y2="199.3" stroke="#EBEBEB" stroke-width="1.5"/>
<line x1="352.7" x2="400.5" y1="142.6" y2="142.6" stroke="#EBEBEB" stroke-width="1.5"/>
<line x1="352.7" x2="400.5" y1="86" y2="86" stroke="#EBEBEB" stroke-width="1.5"/>
<line x1="365.7" x2="365.7" y1="31.3" y2="200.2" stroke="#EBEBEB" stroke-width="1.5"/>
<line x1="387.3" x2="387.3" y1="31.3" y2="200.2" stroke="#EBEBEB" stroke-width="1.5"/>
<line x1="365.7" x2="365.7" y1="38.4" y2="88.4" stroke="#1a1a1a" stroke-width="1.3"/>
<line x1="365.7" x2="365.7" y1="126.4" y2="175.4" stroke="#1a1a1a" stroke-width="1.3"/>
<rect x="357.3" y="88.4" width="17.20" height="38.00" fill="#fff" stroke="#1a1a1a" stroke-width="1.3"/>
<line x1="387.3" x2="387.3" y1="84" y2="115.3" stroke="#1a1a1a" stroke-width="1.3"/>
<line x1="387.3" x2="387.3" y1="139.1" y2="170.4" stroke="#1a1a1a" stroke-width="1.3"/>
<rect x="379.4" y="115.3" width="17.10" height="23.80" fill="#fff" stroke="#1a1a1a" stroke-width="1.3"/>
<circle cx="368.4" cy="38.4" r="3.05" fill="#000" fill-opacity="0.5" stroke="#000" stroke-opacity="0.5" stroke-width="0.9"/>
<circle cx="367.1" cy="52.2" r="3.05" fill="#000" fill-opacity="0.5" stroke="#000" stroke-opacity="0.5" stroke-width="0.9"/>
<circle cx="389.7" cy="109.2" r="3.05" fill="#000" fill-opacity="0.5" stroke="#000" stroke-opacity="0.5" stroke-width="0.9"/>
<circle cx="362.2" cy="61.0" r="3.05" fill="#000" fill-opacity="0.5" stroke="#000" stroke-opacity="0.5" stroke-width="0.9"/>
<circle cx="388.7" cy="106.1" r="3.05" fill="#000" fill-opacity="0.5" stroke="#000" stroke-opacity="0.5" stroke-width="0.9"/>
<circle cx="363.5" cy="71.1" r="3.05" fill="#000" fill-opacity="0.5" stroke="#000" stroke-opacity="0.5" stroke-width="0.9"/>
<circle cx="368.4" cy="71.1" r="3.05" fill="#000" fill-opacity="0.5" stroke="#000" stroke-opacity="0.5" stroke-width="0.9"/>
<circle cx="362.8" cy="78.2" r="3.05" fill="#000" fill-opacity="0.5" stroke="#000" stroke-opacity="0.5" stroke-width="0.9"/>
<circle cx="365.9" cy="80.6" r="3.05" fill="#000" fill-opacity="0.5" stroke="#000" stroke-opacity="0.5" stroke-width="0.9"/>
<circle cx="369.0" cy="81.8" r="3.05" fill="#000" fill-opacity="0.5" stroke="#000" stroke-opacity="0.5" stroke-width="0.9"/>
<circle cx="368.8" cy="75.8" r="3.05" fill="#000" fill-opacity="0.5" stroke="#000" stroke-opacity="0.5" stroke-width="0.9"/>
<circle cx="363.5" cy="83.1" r="3.05" fill="#000" fill-opacity="0.5" stroke="#000" stroke-opacity="0.5" stroke-width="0.9"/>
<circle cx="361.6" cy="81.8" r="3.05" fill="#000" fill-opacity="0.5" stroke="#000" stroke-opacity="0.5" stroke-width="0.9"/>
<circle cx="363.5" cy="86.2" r="3.05" fill="#000" fill-opacity="0.5" stroke="#000" stroke-opacity="0.5" stroke-width="0.9"/>
<circle cx="389.1" cy="140.1" r="3.05" fill="#000" fill-opacity="0.5" stroke="#000" stroke-opacity="0.5" stroke-width="0.9"/>
<circle cx="368.4" cy="88.1" r="3.05" fill="#000" fill-opacity="0.5" stroke="#000" stroke-opacity="0.5" stroke-width="0.9"/>
<circle cx="361.6" cy="93.0" r="3.05" fill="#000" fill-opacity="0.5" stroke="#000" stroke-opacity="0.5" stroke-width="0.9"/>
<circle cx="362.2" cy="100.3" r="3.05" fill="#000" fill-opacity="0.5" stroke="#000" stroke-opacity="0.5" stroke-width="0.9"/>
<circle cx="367.1" cy="99.7" r="3.05" fill="#000" fill-opacity="0.5" stroke="#000" stroke-opacity="0.5" stroke-width="0.9"/>
<circle cx="369.6" cy="104.6" r="3.05" fill="#000" fill-opacity="0.5" stroke="#000" stroke-opacity="0.5" stroke-width="0.9"/>
<circle cx="361.0" cy="116.2" r="3.05" fill="#000" fill-opacity="0.5" stroke="#000" stroke-opacity="0.5" stroke-width="0.9"/>
<circle cx="367.1" cy="118.0" r="3.05" fill="#000" fill-opacity="0.5" stroke="#000" stroke-opacity="0.5" stroke-width="0.9"/>
<circle cx="364.1" cy="121.7" r="3.05" fill="#000" fill-opacity="0.5" stroke="#000" stroke-opacity="0.5" stroke-width="0.9"/>
<circle cx="364.3" cy="90.6" r="3.05" fill="#000" fill-opacity="0.5" stroke="#000" stroke-opacity="0.5" stroke-width="0.9"/>
<circle cx="370.2" cy="122.9" r="3.05" fill="#000" fill-opacity="0.5" stroke="#000" stroke-opacity="0.5" stroke-width="0.9"/>
<circle cx="363.5" cy="127.2" r="3.05" fill="#000" fill-opacity="0.5" stroke="#000" stroke-opacity="0.5" stroke-width="0.9"/>
<circle cx="367.3" cy="136.4" r="3.05" fill="#000" fill-opacity="0.5" stroke="#000" stroke-opacity="0.5" stroke-width="0.9"/>
<circle cx="367.6" cy="83.1" r="3.05" fill="#000" fill-opacity="0.5" stroke="#000" stroke-opacity="0.5" stroke-width="0.9"/>
<circle cx="363.3" cy="114.4" r="3.05" fill="#000" fill-opacity="0.5" stroke="#000" stroke-opacity="0.5" stroke-width="0.9"/>
<circle cx="368.4" cy="126.6" r="3.05" fill="#000" fill-opacity="0.5" stroke="#000" stroke-opacity="0.5" stroke-width="0.9"/>
<circle cx="361.6" cy="130.3" r="3.05" fill="#000" fill-opacity="0.5" stroke="#000" stroke-opacity="0.5" stroke-width="0.9"/>
<circle cx="386.1" cy="137.3" r="3.05" fill="#000" fill-opacity="0.5" stroke="#000" stroke-opacity="0.5" stroke-width="0.9"/>
<circle cx="369.6" cy="130.9" r="3.05" fill="#000" fill-opacity="0.5" stroke="#000" stroke-opacity="0.5" stroke-width="0.9"/>
<circle cx="365.9" cy="132.7" r="3.05" fill="#000" fill-opacity="0.5" stroke="#000" stroke-opacity="0.5" stroke-width="0.9"/>
<circle cx="368.3" cy="82.9" r="3.05" fill="#000" fill-opacity="0.5" stroke="#000" stroke-opacity="0.5" stroke-width="0.9"/>
<circle cx="389.9" cy="144.2" r="3.05" fill="#000" fill-opacity="0.5" stroke="#000" stroke-opacity="0.5" stroke-width="0.9"/>
<circle cx="362.2" cy="137.0" r="3.05" fill="#000" fill-opacity="0.5" stroke="#000" stroke-opacity="0.5" stroke-width="0.9"/>
<circle cx="368.4" cy="136.4" r="3.05" fill="#000" fill-opacity="0.5" stroke="#000" stroke-opacity="0.5" stroke-width="0.9"/>
<circle cx="364.2" cy="80.8" r="3.05" fill="#000" fill-opacity="0.5" stroke="#000" stroke-opacity="0.5" stroke-width="0.9"/>
<circle cx="368.6" cy="117.6" r="3.05" fill="#000" fill-opacity="0.5" stroke="#000" stroke-opacity="0.5" stroke-width="0.9"/>
<circle cx="363.5" cy="142.5" r="3.05" fill="#000" fill-opacity="0.5" stroke="#000" stroke-opacity="0.5" stroke-width="0.9"/>
<circle cx="363.9" cy="143.8" r="3.05" fill="#000" fill-opacity="0.5" stroke="#000" stroke-opacity="0.5" stroke-width="0.9"/>
<circle cx="361.4" cy="148.9" r="3.05" fill="#000" fill-opacity="0.5" stroke="#000" stroke-opacity="0.5" stroke-width="0.9"/>
<circle cx="369.6" cy="147.6" r="3.05" fill="#000" fill-opacity="0.5" stroke="#000" stroke-opacity="0.5" stroke-width="0.9"/>
<circle cx="365.2" cy="152.0" r="3.05" fill="#000" fill-opacity="0.5" stroke="#000" stroke-opacity="0.5" stroke-width="0.9"/>
<circle cx="367.7" cy="162.8" r="3.05" fill="#000" fill-opacity="0.5" stroke="#000" stroke-opacity="0.5" stroke-width="0.9"/>
<circle cx="389.8" cy="132.4" r="3.05" fill="#000" fill-opacity="0.5" stroke="#000" stroke-opacity="0.5" stroke-width="0.9"/>
<circle cx="368.0" cy="131.1" r="3.05" fill="#000" fill-opacity="0.5" stroke="#000" stroke-opacity="0.5" stroke-width="0.9"/>
<circle cx="385.5" cy="102.4" r="3.05" fill="#000" fill-opacity="0.5" stroke="#000" stroke-opacity="0.5" stroke-width="0.9"/>
<circle cx="389.6" cy="117.9" r="3.05" fill="#000" fill-opacity="0.5" stroke="#000" stroke-opacity="0.5" stroke-width="0.9"/>
<circle cx="362.7" cy="176.4" r="3.05" fill="#000" fill-opacity="0.5" stroke="#000" stroke-opacity="0.5" stroke-width="0.9"/>
<circle cx="367.7" cy="192.5" r="3.05" fill="#000" fill-opacity="0.5" stroke="#000" stroke-opacity="0.5" stroke-width="0.9"/>
<circle cx="384.9" cy="130.1" r="3.05" fill="#000" fill-opacity="0.5" stroke="#000" stroke-opacity="0.5" stroke-width="0.9"/>
<circle cx="364.0" cy="108.0" r="3.05" fill="#000" fill-opacity="0.5" stroke="#000" stroke-opacity="0.5" stroke-width="0.9"/>
<circle cx="368.0" cy="112.0" r="3.05" fill="#000" fill-opacity="0.5" stroke="#000" stroke-opacity="0.5" stroke-width="0.9"/>
<circle cx="384.5" cy="75.7" r="3.05" fill="#000" fill-opacity="0.5" stroke="#000" stroke-opacity="0.5" stroke-width="0.9"/>
<circle cx="386.5" cy="84.0" r="3.05" fill="#000" fill-opacity="0.5" stroke="#000" stroke-opacity="0.5" stroke-width="0.9"/>
<circle cx="390.3" cy="119.5" r="3.05" fill="#000" fill-opacity="0.5" stroke="#000" stroke-opacity="0.5" stroke-width="0.9"/>
<circle cx="363.7" cy="89.3" r="3.05" fill="#000" fill-opacity="0.5" stroke="#000" stroke-opacity="0.5" stroke-width="0.9"/>
<circle cx="383.0" cy="87.3" r="3.05" fill="#000" fill-opacity="0.5" stroke="#000" stroke-opacity="0.5" stroke-width="0.9"/>
<circle cx="384.9" cy="88.7" r="3.05" fill="#000" fill-opacity="0.5" stroke="#000" stroke-opacity="0.5" stroke-width="0.9"/>
<circle cx="387.6" cy="132.4" r="3.05" fill="#000" fill-opacity="0.5" stroke="#000" stroke-opacity="0.5" stroke-width="0.9"/>
<circle cx="384.0" cy="134.8" r="3.05" fill="#000" fill-opacity="0.5" stroke="#000" stroke-opacity="0.5" stroke-width="0.9"/>
<circle cx="383.6" cy="92.3" r="3.05" fill="#000" fill-opacity="0.5" stroke="#000" stroke-opacity="0.5" stroke-width="0.9"/>
<circle cx="363.4" cy="120.3" r="3.05" fill="#000" fill-opacity="0.5" stroke="#000" stroke-opacity="0.5" stroke-width="0.9"/>
<circle cx="390.4" cy="92.3" r="3.05" fill="#000" fill-opacity="0.5" stroke="#000" stroke-opacity="0.5" stroke-width="0.9"/>
<circle cx="385.5" cy="96.0" r="3.05" fill="#000" fill-opacity="0.5" stroke="#000" stroke-opacity="0.5" stroke-width="0.9"/>
<circle cx="390.4" cy="101.5" r="3.05" fill="#000" fill-opacity="0.5" stroke="#000" stroke-opacity="0.5" stroke-width="0.9"/>
<circle cx="384.9" cy="105.2" r="3.05" fill="#000" fill-opacity="0.5" stroke="#000" stroke-opacity="0.5" stroke-width="0.9"/>
<circle cx="387.9" cy="107.0" r="3.05" fill="#000" fill-opacity="0.5" stroke="#000" stroke-opacity="0.5" stroke-width="0.9"/>
<circle cx="383.0" cy="110.7" r="3.05" fill="#000" fill-opacity="0.5" stroke="#000" stroke-opacity="0.5" stroke-width="0.9"/>
<circle cx="389.8" cy="112.5" r="3.05" fill="#000" fill-opacity="0.5" stroke="#000" stroke-opacity="0.5" stroke-width="0.9"/>
<circle cx="385.5" cy="115.0" r="3.05" fill="#000" fill-opacity="0.5" stroke="#000" stroke-opacity="0.5" stroke-width="0.9"/>
<circle cx="383.0" cy="118.0" r="3.05" fill="#000" fill-opacity="0.5" stroke="#000" stroke-opacity="0.5" stroke-width="0.9"/>
<circle cx="391.6" cy="120.5" r="3.05" fill="#000" fill-opacity="0.5" stroke="#000" stroke-opacity="0.5" stroke-width="0.9"/>
<circle cx="362.6" cy="70.8" r="3.05" fill="#000" fill-opacity="0.5" stroke="#000" stroke-opacity="0.5" stroke-width="0.9"/>
<circle cx="388.9" cy="111.2" r="3.05" fill="#000" fill-opacity="0.5" stroke="#000" stroke-opacity="0.5" stroke-width="0.9"/>
<circle cx="384.3" cy="131.5" r="3.05" fill="#000" fill-opacity="0.5" stroke="#000" stroke-opacity="0.5" stroke-width="0.9"/>
<circle cx="391.6" cy="133.9" r="3.05" fill="#000" fill-opacity="0.5" stroke="#000" stroke-opacity="0.5" stroke-width="0.9"/>
<circle cx="383.0" cy="136.4" r="3.05" fill="#000" fill-opacity="0.5" stroke="#000" stroke-opacity="0.5" stroke-width="0.9"/>
<circle cx="362.7" cy="117.8" r="3.05" fill="#000" fill-opacity="0.5" stroke="#000" stroke-opacity="0.5" stroke-width="0.9"/>
<circle cx="387.9" cy="138.8" r="3.05" fill="#000" fill-opacity="0.5" stroke="#000" stroke-opacity="0.5" stroke-width="0.9"/>
<circle cx="384.3" cy="141.9" r="3.05" fill="#000" fill-opacity="0.5" stroke="#000" stroke-opacity="0.5" stroke-width="0.9"/>
<circle cx="386.1" cy="113.0" r="3.05" fill="#000" fill-opacity="0.5" stroke="#000" stroke-opacity="0.5" stroke-width="0.9"/>
<circle cx="388.5" cy="144.0" r="3.05" fill="#000" fill-opacity="0.5" stroke="#000" stroke-opacity="0.5" stroke-width="0.9"/>
<circle cx="390.4" cy="142.5" r="3.05" fill="#000" fill-opacity="0.5" stroke="#000" stroke-opacity="0.5" stroke-width="0.9"/>
<circle cx="382.9" cy="143.2" r="3.05" fill="#000" fill-opacity="0.5" stroke="#000" stroke-opacity="0.5" stroke-width="0.9"/>
<circle cx="364.3" cy="132.2" r="3.05" fill="#000" fill-opacity="0.5" stroke="#000" stroke-opacity="0.5" stroke-width="0.9"/>
<circle cx="386.7" cy="141.3" r="3.05" fill="#000" fill-opacity="0.5" stroke="#000" stroke-opacity="0.5" stroke-width="0.9"/>
<circle cx="391.8" cy="147.0" r="3.05" fill="#000" fill-opacity="0.5" stroke="#000" stroke-opacity="0.5" stroke-width="0.9"/>
<circle cx="384.2" cy="151.4" r="3.05" fill="#000" fill-opacity="0.5" stroke="#000" stroke-opacity="0.5" stroke-width="0.9"/>
<circle cx="388.0" cy="152.0" r="3.05" fill="#000" fill-opacity="0.5" stroke="#000" stroke-opacity="0.5" stroke-width="0.9"/>
<circle cx="366.9" cy="74.1" r="3.05" fill="#000" fill-opacity="0.5" stroke="#000" stroke-opacity="0.5" stroke-width="0.9"/>
<circle cx="383.5" cy="155.8" r="3.05" fill="#000" fill-opacity="0.5" stroke="#000" stroke-opacity="0.5" stroke-width="0.9"/>
<circle cx="389.0" cy="118.9" r="3.05" fill="#000" fill-opacity="0.5" stroke="#000" stroke-opacity="0.5" stroke-width="0.9"/>
<circle cx="386.1" cy="159.6" r="3.05" fill="#000" fill-opacity="0.5" stroke="#000" stroke-opacity="0.5" stroke-width="0.9"/>
<circle cx="388.6" cy="163.4" r="3.05" fill="#000" fill-opacity="0.5" stroke="#000" stroke-opacity="0.5" stroke-width="0.9"/>
<circle cx="385.4" cy="165.9" r="3.05" fill="#000" fill-opacity="0.5" stroke="#000" stroke-opacity="0.5" stroke-width="0.9"/>
<circle cx="384.8" cy="169.7" r="3.05" fill="#000" fill-opacity="0.5" stroke="#000" stroke-opacity="0.5" stroke-width="0.9"/>
<circle cx="384.8" cy="173.1" r="3.05" fill="#000" fill-opacity="0.5" stroke="#000" stroke-opacity="0.5" stroke-width="0.9"/>
<circle cx="386.0" cy="124.0" r="3.05" fill="#000" fill-opacity="0.5" stroke="#000" stroke-opacity="0.5" stroke-width="0.9"/>
<circle cx="368.0" cy="136.9" r="3.05" fill="#000" fill-opacity="0.5" stroke="#000" stroke-opacity="0.5" stroke-width="0.9"/>
<circle cx="389.0" cy="128.0" r="3.05" fill="#000" fill-opacity="0.5" stroke="#000" stroke-opacity="0.5" stroke-width="0.9"/>
<path d="M365.7,101.9 L372.7,108.9 L365.7,115.9 L358.7,108.9 Z" fill="#8B0000"/>
<path d="M387.3,119.0 L394.3,126 L387.3,133.0 L380.3,126 Z" fill="#8B0000"/>
<rect x="352.7" y="31.3" width="47.80" height="168.90" fill="none" stroke="#363636" stroke-width="1.2"/>
<line x1="348.30" x2="352.7" y1="199.3" y2="199.3" stroke="#363636" stroke-width="1.35"/>
<text x="344.30" y="204.00" font-size="14.8" fill="#4D4D4D" text-anchor="end" >10000</text>
<line x1="348.30" x2="352.7" y1="142.6" y2="142.6" stroke="#363636" stroke-width="1.35"/>
<text x="344.30" y="147.30" font-size="14.8" fill="#4D4D4D" text-anchor="end" >20000</text>
<line x1="348.30" x2="352.7" y1="86" y2="86" stroke="#363636" stroke-width="1.35"/>
<text x="344.30" y="90.70" font-size="14.8" fill="#4D4D4D" text-anchor="end" >30000</text>
<line x1="365.7" x2="365.7" y1="200.2" y2="204.60" stroke="#363636" stroke-width="1.35"/>
<text x="365.70" y="217.20" font-size="14" fill="#4D4D4D" text-anchor="middle" >C</text>
<line x1="387.3" x2="387.3" y1="200.2" y2="204.60" stroke="#363636" stroke-width="1.35"/>
<text x="387.30" y="217.20" font-size="14" fill="#4D4D4D" text-anchor="middle" >P</text>
<text x="350.88" y="238.00" font-size="16.3" fill="#000" text-anchor="start" textLength="51.25" lengthAdjust="spacingAndGlyphs" >Group</text>
<text x="346.33" y="17.40" font-size="16.3" fill="#000" text-anchor="start" textLength="92.07" lengthAdjust="spacingAndGlyphs" >p=3.14E-05*</text>
<text x="296.80" y="131.88" font-size="16.3" fill="#000" text-anchor="start" textLength="33.55" lengthAdjust="spacingAndGlyphs" transform="rotate(-90 296.80 131.88)" >ACE</text>
<line x1="465.4" x2="532.8" y1="174" y2="174" stroke="#EBEBEB" stroke-width="0.9"/>
<line x1="465.4" x2="532.8" y1="133.9" y2="133.9" stroke="#EBEBEB" stroke-width="0.9"/>
<line x1="465.4" x2="532.8" y1="93.8" y2="93.8" stroke="#EBEBEB" stroke-width="0.9"/>
<line x1="465.4" x2="532.8" y1="53.8" y2="53.8" stroke="#EBEBEB" stroke-width="0.9"/>
<line x1="465.4" x2="532.8" y1="193.9" y2="193.9" stroke="#EBEBEB" stroke-width="1.5"/>
<line x1="465.4" x2="532.8" y1="154" y2="154" stroke="#EBEBEB" stroke-width="1.5"/>
<line x1="465.4" x2="532.8" y1="113.7" y2="113.7" stroke="#EBEBEB" stroke-width="1.5"/>
<line x1="465.4" x2="532.8" y1="73.8" y2="73.8" stroke="#EBEBEB" stroke-width="1.5"/>
<line x1="465.4" x2="532.8" y1="33.7" y2="33.7" stroke="#EBEBEB" stroke-width="1.5"/>
<line x1="483.4" x2="483.4" y1="31.3" y2="200.2" stroke="#EBEBEB" stroke-width="1.5"/>
<line x1="514.7" x2="514.7" y1="31.3" y2="200.2" stroke="#EBEBEB" stroke-width="1.5"/>
<line x1="483.4" x2="483.4" y1="39.2" y2="67.5" stroke="#1a1a1a" stroke-width="1.3"/>
<line x1="483.4" x2="483.4" y1="106.8" y2="174" stroke="#1a1a1a" stroke-width="1.3"/>
<rect x="471.5" y="67.5" width="23.90" height="39.30" fill="#fff" stroke="#1a1a1a" stroke-width="1.3"/>
<line x1="471.5" x2="495.4" y1="83.2" y2="83.2" stroke="#1a1a1a" stroke-width="2"/>
<line x1="514.7" x2="514.7" y1="41.6" y2="75.3" stroke="#1a1a1a" stroke-width="1.3"/>
<line x1="514.7" x2="514.7" y1="116.7" y2="177.8" stroke="#1a1a1a" stroke-width="1.3"/>
<rect x="502.5" y="75.3" width="24.10" height="41.40" fill="#fff" stroke="#1a1a1a" stroke-width="1.3"/>
<line x1="502.5" x2="526.6" y1="92.3" y2="92.3" stroke="#1a1a1a" stroke-width="2"/>
<circle cx="489.0" cy="38.3" r="3.05" fill="#000" fill-opacity="0.5" stroke="#000" stroke-opacity="0.5" stroke-width="0.9"/>
<circle cx="477.7" cy="46.5" r="3.05" fill="#000" fill-opacity="0.5" stroke="#000" stroke-opacity="0.5" stroke-width="0.9"/>
<circle cx="484.3" cy="45.9" r="3.05" fill="#000" fill-opacity="0.5" stroke="#000" stroke-opacity="0.5" stroke-width="0.9"/>
<circle cx="476.7" cy="50.8" r="3.05" fill="#000" fill-opacity="0.5" stroke="#000" stroke-opacity="0.5" stroke-width="0.9"/>
<circle cx="486.5" cy="50.8" r="3.05" fill="#000" fill-opacity="0.5" stroke="#000" stroke-opacity="0.5" stroke-width="0.9"/>
<circle cx="477.9" cy="55.1" r="3.05" fill="#000" fill-opacity="0.5" stroke="#000" stroke-opacity="0.5" stroke-width="0.9"/>
<circle cx="483.4" cy="54.5" r="3.05" fill="#000" fill-opacity="0.5" stroke="#000" stroke-opacity="0.5" stroke-width="0.9"/>
<circle cx="487.7" cy="57.6" r="3.05" fill="#000" fill-opacity="0.5" stroke="#000" stroke-opacity="0.5" stroke-width="0.9"/>
<circle cx="483.4" cy="60.0" r="3.05" fill="#000" fill-opacity="0.5" stroke="#000" stroke-opacity="0.5" stroke-width="0.9"/>
<circle cx="489.6" cy="63.1" r="3.05" fill="#000" fill-opacity="0.5" stroke="#000" stroke-opacity="0.5" stroke-width="0.9"/>
<circle cx="480.4" cy="65.5" r="3.05" fill="#000" fill-opacity="0.5" stroke="#000" stroke-opacity="0.5" stroke-width="0.9"/>
<circle cx="485.3" cy="66.8" r="3.05" fill="#000" fill-opacity="0.5" stroke="#000" stroke-opacity="0.5" stroke-width="0.9"/>
<circle cx="489.0" cy="68.6" r="3.05" fill="#000" fill-opacity="0.5" stroke="#000" stroke-opacity="0.5" stroke-width="0.9"/>
<circle cx="481.6" cy="70.4" r="3.05" fill="#000" fill-opacity="0.5" stroke="#000" stroke-opacity="0.5" stroke-width="0.9"/>
<circle cx="477.3" cy="72.9" r="3.05" fill="#000" fill-opacity="0.5" stroke="#000" stroke-opacity="0.5" stroke-width="0.9"/>
<circle cx="486.5" cy="73.5" r="3.05" fill="#000" fill-opacity="0.5" stroke="#000" stroke-opacity="0.5" stroke-width="0.9"/>
<circle cx="489.0" cy="75.9" r="3.05" fill="#000" fill-opacity="0.5" stroke="#000" stroke-opacity="0.5" stroke-width="0.9"/>
<circle cx="482.2" cy="76.6" r="3.05" fill="#000" fill-opacity="0.5" stroke="#000" stroke-opacity="0.5" stroke-width="0.9"/>
<circle cx="477.3" cy="80.2" r="3.05" fill="#000" fill-opacity="0.5" stroke="#000" stroke-opacity="0.5" stroke-width="0.9"/>
<circle cx="485.3" cy="81.5" r="3.05" fill="#000" fill-opacity="0.5" stroke="#000" stroke-opacity="0.5" stroke-width="0.9"/>
<circle cx="479.8" cy="83.9" r="3.05" fill="#000" fill-opacity="0.5" stroke="#000" stroke-opacity="0.5" stroke-width="0.9"/>
<circle cx="489.0" cy="83.9" r="3.05" fill="#000" fill-opacity="0.5" stroke="#000" stroke-opacity="0.5" stroke-width="0.9"/>
<circle cx="480.4" cy="83.7" r="3.05" fill="#000" fill-opacity="0.5" stroke="#000" stroke-opacity="0.5" stroke-width="0.9"/>
<circle cx="486.5" cy="82.5" r="3.05" fill="#000" fill-opacity="0.5" stroke="#000" stroke-opacity="0.5" stroke-width="0.9"/>
<circle cx="479.8" cy="94.7" r="3.05" fill="#000" fill-opacity="0.5" stroke="#000" stroke-opacity="0.5" stroke-width="0.9"/>
<circle cx="489.0" cy="93.5" r="3.05" fill="#000" fill-opacity="0.5" stroke="#000" stroke-opacity="0.5" stroke-width="0.9"/>
<circle cx="480.4" cy="100.8" r="3.05" fill="#000" fill-opacity="0.5" stroke="#000" stroke-opacity="0.5" stroke-width="0.9"/>
<circle cx="485.9" cy="100.8" r="3.05" fill="#000" fill-opacity="0.5" stroke="#000" stroke-opacity="0.5" stroke-width="0.9"/>
<circle cx="477.9" cy="107.6" r="3.05" fill="#000" fill-opacity="0.5" stroke="#000" stroke-opacity="0.5" stroke-width="0.9"/>
<circle cx="482.8" cy="107.0" r="3.05" fill="#000" fill-opacity="0.5" stroke="#000" stroke-opacity="0.5" stroke-width="0.9"/>
<circle cx="487.1" cy="109.4" r="3.05" fill="#000" fill-opacity="0.5" stroke="#000" stroke-opacity="0.5" stroke-width="0.9"/>
<circle cx="487.7" cy="114.3" r="3.05" fill="#000" fill-opacity="0.5" stroke="#000" stroke-opacity="0.5" stroke-width="0.9"/>
<circle cx="482.2" cy="125.9" r="3.05" fill="#000" fill-opacity="0.5" stroke="#000" stroke-opacity="0.5" stroke-width="0.9"/>
<circle cx="484.0" cy="128.4" r="3.05" fill="#000" fill-opacity="0.5" stroke="#000" stroke-opacity="0.5" stroke-width="0.9"/>
<circle cx="485.3" cy="129.0" r="3.05" fill="#000" fill-opacity="0.5" stroke="#000" stroke-opacity="0.5" stroke-width="0.9"/>
<circle cx="485.1" cy="107.4" r="3.05" fill="#000" fill-opacity="0.5" stroke="#000" stroke-opacity="0.5" stroke-width="0.9"/>
<circle cx="487.5" cy="114.3" r="3.05" fill="#000" fill-opacity="0.5" stroke="#000" stroke-opacity="0.5" stroke-width="0.9"/>
<circle cx="483.2" cy="125.5" r="3.05" fill="#000" fill-opacity="0.5" stroke="#000" stroke-opacity="0.5" stroke-width="0.9"/>
<circle cx="482.7" cy="128.4" r="3.05" fill="#000" fill-opacity="0.5" stroke="#000" stroke-opacity="0.5" stroke-width="0.9"/>
<circle cx="486.0" cy="129.4" r="3.05" fill="#000" fill-opacity="0.5" stroke="#000" stroke-opacity="0.5" stroke-width="0.9"/>
<circle cx="482.2" cy="55.6" r="3.05" fill="#000" fill-opacity="0.5" stroke="#000" stroke-opacity="0.5" stroke-width="0.9"/>
<circle cx="483.6" cy="141.0" r="3.05" fill="#000" fill-opacity="0.5" stroke="#000" stroke-opacity="0.5" stroke-width="0.9"/>
<circle cx="480.1" cy="153.6" r="3.05" fill="#000" fill-opacity="0.5" stroke="#000" stroke-opacity="0.5" stroke-width="0.9"/>
<circle cx="487.5" cy="159.4" r="3.05" fill="#000" fill-opacity="0.5" stroke="#000" stroke-opacity="0.5" stroke-width="0.9"/>
<circle cx="481.3" cy="165.8" r="3.05" fill="#000" fill-opacity="0.5" stroke="#000" stroke-opacity="0.5" stroke-width="0.9"/>
<circle cx="486.9" cy="166.6" r="3.05" fill="#000" fill-opacity="0.5" stroke="#000" stroke-opacity="0.5" stroke-width="0.9"/>
<circle cx="486.0" cy="172.0" r="3.05" fill="#000" fill-opacity="0.5" stroke="#000" stroke-opacity="0.5" stroke-width="0.9"/>
<circle cx="481.3" cy="100.7" r="3.05" fill="#000" fill-opacity="0.5" stroke="#000" stroke-opacity="0.5" stroke-width="0.9"/>
<circle cx="483.2" cy="174.3" r="3.05" fill="#000" fill-opacity="0.5" stroke="#000" stroke-opacity="0.5" stroke-width="0.9"/>
<circle cx="483.6" cy="110.0" r="3.05" fill="#000" fill-opacity="0.5" stroke="#000" stroke-opacity="0.5" stroke-width="0.9"/>
<circle cx="480.3" cy="192.7" r="3.05" fill="#000" fill-opacity="0.5" stroke="#000" stroke-opacity="0.5" stroke-width="0.9"/>
<circle cx="514.1" cy="41.6" r="3.05" fill="#000" fill-opacity="0.5" stroke="#000" stroke-opacity="0.5" stroke-width="0.9"/>
<circle cx="515.9" cy="49.6" r="3.05" fill="#000" fill-opacity="0.5" stroke="#000" stroke-opacity="0.5" stroke-width="0.9"/>
<circle cx="512.2" cy="51.4" r="3.05" fill="#000" fill-opacity="0.5" stroke="#000" stroke-opacity="0.5" stroke-width="0.9"/>
<circle cx="509.2" cy="53.9" r="3.05" fill="#000" fill-opacity="0.5" stroke="#000" stroke-opacity="0.5" stroke-width="0.9"/>
<circle cx="517.1" cy="56.3" r="3.05" fill="#000" fill-opacity="0.5" stroke="#000" stroke-opacity="0.5" stroke-width="0.9"/>
<circle cx="515.3" cy="59.4" r="3.05" fill="#000" fill-opacity="0.5" stroke="#000" stroke-opacity="0.5" stroke-width="0.9"/>
<circle cx="517.7" cy="63.1" r="3.05" fill="#000" fill-opacity="0.5" stroke="#000" stroke-opacity="0.5" stroke-width="0.9"/>
<circle cx="511.6" cy="65.5" r="3.05" fill="#000" fill-opacity="0.5" stroke="#000" stroke-opacity="0.5" stroke-width="0.9"/>
<circle cx="520.8" cy="68.0" r="3.05" fill="#000" fill-opacity="0.5" stroke="#000" stroke-opacity="0.5" stroke-width="0.9"/>
<circle cx="515.9" cy="68.0" r="3.05" fill="#000" fill-opacity="0.5" stroke="#000" stroke-opacity="0.5" stroke-width="0.9"/>
<circle cx="480.3" cy="55.8" r="3.05" fill="#000" fill-opacity="0.5" stroke="#000" stroke-opacity="0.5" stroke-width="0.9"/>
<circle cx="520.8" cy="71.7" r="3.05" fill="#000" fill-opacity="0.5" stroke="#000" stroke-opacity="0.5" stroke-width="0.9"/>
<circle cx="512.8" cy="71.0" r="3.05" fill="#000" fill-opacity="0.5" stroke="#000" stroke-opacity="0.5" stroke-width="0.9"/>
<circle cx="482.3" cy="77.2" r="3.05" fill="#000" fill-opacity="0.5" stroke="#000" stroke-opacity="0.5" stroke-width="0.9"/>
<circle cx="509.2" cy="74.7" r="3.05" fill="#000" fill-opacity="0.5" stroke="#000" stroke-opacity="0.5" stroke-width="0.9"/>
<circle cx="513.5" cy="75.9" r="3.05" fill="#000" fill-opacity="0.5" stroke="#000" stroke-opacity="0.5" stroke-width="0.9"/>
<circle cx="518.4" cy="76.6" r="3.05" fill="#000" fill-opacity="0.5" stroke="#000" stroke-opacity="0.5" stroke-width="0.9"/>
<circle cx="510.4" cy="80.2" r="3.05" fill="#000" fill-opacity="0.5" stroke="#000" stroke-opacity="0.5" stroke-width="0.9"/>
<circle cx="517.1" cy="81.5" r="3.05" fill="#000" fill-opacity="0.5" stroke="#000" stroke-opacity="0.5" stroke-width="0.9"/>
<circle cx="508.6" cy="85.1" r="3.05" fill="#000" fill-opacity="0.5" stroke="#000" stroke-opacity="0.5" stroke-width="0.9"/>
<circle cx="519.6" cy="84.5" r="3.05" fill="#000" fill-opacity="0.5" stroke="#000" stroke-opacity="0.5" stroke-width="0.9"/>
<circle cx="513.5" cy="87.6" r="3.05" fill="#000" fill-opacity="0.5" stroke="#000" stroke-opacity="0.5" stroke-width="0.9"/>
<circle cx="508.6" cy="81.2" r="3.05" fill="#000" fill-opacity="0.5" stroke="#000" stroke-opacity="0.5" stroke-width="0.9"/>
<circle cx="515.9" cy="81.8" r="3.05" fill="#000" fill-opacity="0.5" stroke="#000" stroke-opacity="0.5" stroke-width="0.9"/>
<circle cx="519.6" cy="84.3" r="3.05" fill="#000" fill-opacity="0.5" stroke="#000" stroke-opacity="0.5" stroke-width="0.9"/>
<circle cx="511.6" cy="84.9" r="3.05" fill="#000" fill-opacity="0.5" stroke="#000" stroke-opacity="0.5" stroke-width="0.9"/>
<circle cx="509.2" cy="86.7" r="3.05" fill="#000" fill-opacity="0.5" stroke="#000" stroke-opacity="0.5" stroke-width="0.9"/>
<circle cx="520.2" cy="95.9" r="3.05" fill="#000" fill-opacity="0.5" stroke="#000" stroke-opacity="0.5" stroke-width="0.9"/>
<circle cx="510.4" cy="100.8" r="3.05" fill="#000" fill-opacity="0.5" stroke="#000" stroke-opacity="0.5" stroke-width="0.9"/>
<circle cx="479.1" cy="61.6" r="3.05" fill="#000" fill-opacity="0.5" stroke="#000" stroke-opacity="0.5" stroke-width="0.9"/>
<circle cx="520.2" cy="103.3" r="3.05" fill="#000" fill-opacity="0.5" stroke="#000" stroke-opacity="0.5" stroke-width="0.9"/>
<circle cx="512.8" cy="106.3" r="3.05" fill="#000" fill-opacity="0.5" stroke="#000" stroke-opacity="0.5" stroke-width="0.9"/>
<circle cx="518.4" cy="108.2" r="3.05" fill="#000" fill-opacity="0.5" stroke="#000" stroke-opacity="0.5" stroke-width="0.9"/>
<circle cx="509.8" cy="112.5" r="3.05" fill="#000" fill-opacity="0.5" stroke="#000" stroke-opacity="0.5" stroke-width="0.9"/>
<circle cx="514.7" cy="115.5" r="3.05" fill="#000" fill-opacity="0.5" stroke="#000" stroke-opacity="0.5" stroke-width="0.9"/>
<circle cx="509.2" cy="120.4" r="3.05" fill="#000" fill-opacity="0.5" stroke="#000" stroke-opacity="0.5" stroke-width="0.9"/>
<circle cx="517.1" cy="119.8" r="3.05" fill="#000" fill-opacity="0.5" stroke="#000" stroke-opacity="0.5" stroke-width="0.9"/>
<circle cx="508.6" cy="125.3" r="3.05" fill="#000" fill-opacity="0.5" stroke="#000" stroke-opacity="0.5" stroke-width="0.9"/>
<circle cx="518.4" cy="124.7" r="3.05" fill="#000" fill-opacity="0.5" stroke="#000" stroke-opacity="0.5" stroke-width="0.9"/>
<circle cx="511.6" cy="131.5" r="3.05" fill="#000" fill-opacity="0.5" stroke="#000" stroke-opacity="0.5" stroke-width="0.9"/>
<circle cx="509.2" cy="136.4" r="3.05" fill="#000" fill-opacity="0.5" stroke="#000" stroke-opacity="0.5" stroke-width="0.9"/>
<circle cx="481.7" cy="60.4" r="3.05" fill="#000" fill-opacity="0.5" stroke="#000" stroke-opacity="0.5" stroke-width="0.9"/>
<circle cx="514.7" cy="135.7" r="3.05" fill="#000" fill-opacity="0.5" stroke="#000" stroke-opacity="0.5" stroke-width="0.9"/>
<circle cx="510.7" cy="112.9" r="3.05" fill="#000" fill-opacity="0.5" stroke="#000" stroke-opacity="0.5" stroke-width="0.9"/>
<circle cx="518.5" cy="110.0" r="3.05" fill="#000" fill-opacity="0.5" stroke="#000" stroke-opacity="0.5" stroke-width="0.9"/>
<circle cx="508.8" cy="119.7" r="3.05" fill="#000" fill-opacity="0.5" stroke="#000" stroke-opacity="0.5" stroke-width="0.9"/>
<circle cx="514.6" cy="119.7" r="3.05" fill="#000" fill-opacity="0.5" stroke="#000" stroke-opacity="0.5" stroke-width="0.9"/>
<circle cx="508.8" cy="125.1" r="3.05" fill="#000" fill-opacity="0.5" stroke="#000" stroke-opacity="0.5" stroke-width="0.9"/>
<circle cx="514.6" cy="123.2" r="3.05" fill="#000" fill-opacity="0.5" stroke="#000" stroke-opacity="0.5" stroke-width="0.9"/>
<circle cx="512.1" cy="132.3" r="3.05" fill="#000" fill-opacity="0.5" stroke="#000" stroke-opacity="0.5" stroke-width="0.9"/>
<circle cx="509.8" cy="137.1" r="3.05" fill="#000" fill-opacity="0.5" stroke="#000" stroke-opacity="0.5" stroke-width="0.9"/>
<circle cx="515.6" cy="136.2" r="3.05" fill="#000" fill-opacity="0.5" stroke="#000" stroke-opacity="0.5" stroke-width="0.9"/>
<circle cx="518.5" cy="140.6" r="3.05" fill="#000" fill-opacity="0.5" stroke="#000" stroke-opacity="0.5" stroke-width="0.9"/>
<circle cx="515.6" cy="160.4" r="3.05" fill="#000" fill-opacity="0.5" stroke="#000" stroke-opacity="0.5" stroke-width="0.9"/>
<circle cx="511.7" cy="167.2" r="3.05" fill="#000" fill-opacity="0.5" stroke="#000" stroke-opacity="0.5" stroke-width="0.9"/>
<circle cx="514.6" cy="169.1" r="3.05" fill="#000" fill-opacity="0.5" stroke="#000" stroke-opacity="0.5" stroke-width="0.9"/>
<circle cx="514.6" cy="171.6" r="3.05" fill="#000" fill-opacity="0.5" stroke="#000" stroke-opacity="0.5" stroke-width="0.9"/>
<circle cx="482.2" cy="84.8" r="3.05" fill="#000" fill-opacity="0.5" stroke="#000" stroke-opacity="0.5" stroke-width="0.9"/>
<circle cx="508.8" cy="178.2" r="3.05" fill="#000" fill-opacity="0.5" stroke="#000" stroke-opacity="0.5" stroke-width="0.9"/>
<circle cx="514.2" cy="176.8" r="3.05" fill="#000" fill-opacity="0.5" stroke="#000" stroke-opacity="0.5" stroke-width="0.9"/>
<circle cx="512.0" cy="93.0" r="3.05" fill="#000" fill-opacity="0.5" stroke="#000" stroke-opacity="0.5" stroke-width="0.9"/>
<circle cx="516.0" cy="90.0" r="3.05" fill="#000" fill-opacity="0.5" stroke="#000" stroke-opacity="0.5" stroke-width="0.9"/>
<path d="M483.4,84.6 L490.4,91.6 L483.4,98.6 L476.4,91.6 Z" fill="#8B0000"/>
<path d="M514.7,90.6 L521.7,97.6 L514.7,104.6 L507.70000000000005,97.6 Z" fill="#8B0000"/>
<rect x="465.4" y="31.3" width="67.40" height="168.90" fill="none" stroke="#363636" stroke-width="1.2"/>
<line x1="461.00" x2="465.4" y1="193.9" y2="193.9" stroke="#363636" stroke-width="1.35"/>
<text x="457.00" y="198.60" font-size="14.8" fill="#4D4D4D" text-anchor="end" >6.8</text>
<line x1="461.00" x2="465.4" y1="154" y2="154" stroke="#363636" stroke-width="1.35"/>
<text x="457.00" y="158.70" font-size="14.8" fill="#4D4D4D" text-anchor="end" >7.2</text>
<line x1="461.00" x2="465.4" y1="113.7" y2="113.7" stroke="#363636" stroke-width="1.35"/>
<text x="457.00" y="118.40" font-size="14.8" fill="#4D4D4D" text-anchor="end" >7.6</text>
<line x1="461.00" x2="465.4" y1="73.8" y2="73.8" stroke="#363636" stroke-width="1.35"/>
<text x="457.00" y="78.50" font-size="14.8" fill="#4D4D4D" text-anchor="end" >8.0</text>
<line x1="461.00" x2="465.4" y1="33.7" y2="33.7" stroke="#363636" stroke-width="1.35"/>
<text x="457.00" y="38.40" font-size="14.8" fill="#4D4D4D" text-anchor="end" >8.4</text>
<line x1="483.4" x2="483.4" y1="200.2" y2="204.60" stroke="#363636" stroke-width="1.35"/>
<text x="483.40" y="217.20" font-size="14" fill="#4D4D4D" text-anchor="middle" >C</text>
<line x1="514.7" x2="514.7" y1="200.2" y2="204.60" stroke="#363636" stroke-width="1.35"/>
<text x="514.70" y="217.20" font-size="14" fill="#4D4D4D" text-anchor="middle" >P</text>
<text x="473.38" y="238.00" font-size="16.3" fill="#000" text-anchor="start" textLength="51.25" lengthAdjust="spacingAndGlyphs" >Group</text>
<text x="459.52" y="17.40" font-size="16.3" fill="#000" text-anchor="start" textLength="85.98" lengthAdjust="spacingAndGlyphs" >p=5.82E-01</text>
<text x="428.70" y="152.12" font-size="16.3" fill="#000" text-anchor="start" textLength="72.78" lengthAdjust="spacingAndGlyphs" transform="rotate(-90 428.70 152.12)" >Shannon</text>
<line x1="609.7" x2="665.4" y1="189.4" y2="189.4" stroke="#EBEBEB" stroke-width="0.9"/>
<line x1="609.7" x2="665.4" y1="136.3" y2="136.3" stroke="#EBEBEB" stroke-width="0.9"/>
<line x1="609.7" x2="665.4" y1="83.2" y2="83.2" stroke="#EBEBEB" stroke-width="0.9"/>
<line x1="609.7" x2="665.4" y1="163" y2="163" stroke="#EBEBEB" stroke-width="1.5"/>
<line x1="609.7" x2="665.4" y1="109.6" y2="109.6" stroke="#EBEBEB" stroke-width="1.5"/>
<line x1="609.7" x2="665.4" y1="57.2" y2="57.2" stroke="#EBEBEB" stroke-width="1.5"/>
<line x1="624.8" x2="624.8" y1="31.3" y2="200.2" stroke="#EBEBEB" stroke-width="1.5"/>
<line x1="650.4" x2="650.4" y1="31.3" y2="200.2" stroke="#EBEBEB" stroke-width="1.5"/>
<line x1="624.8" x2="624.8" y1="38.3" y2="102.3" stroke="#1a1a1a" stroke-width="1.3"/>
<line x1="624.8" x2="624.8" y1="163.2" y2="191.9" stroke="#1a1a1a" stroke-width="1.3"/>
<rect x="615.2" y="102.3" width="19.50" height="60.90" fill="#fff" stroke="#1a1a1a" stroke-width="1.3"/>
<line x1="615.2" x2="634.7" y1="123.1" y2="123.1" stroke="#1a1a1a" stroke-width="2"/>
<line x1="650.4" x2="650.4" y1="42.3" y2="109.4" stroke="#1a1a1a" stroke-width="1.3"/>
<line x1="650.4" x2="650.4" y1="160.9" y2="190.6" stroke="#1a1a1a" stroke-width="1.3"/>
<rect x="640.5" y="109.4" width="20.10" height="51.50" fill="#fff" stroke="#1a1a1a" stroke-width="1.3"/>
<line x1="640.5" x2="660.6" y1="132.9" y2="132.9" stroke="#1a1a1a" stroke-width="2"/>
<circle cx="625.3" cy="38.3" r="3.05" fill="#000" fill-opacity="0.5" stroke="#000" stroke-opacity="0.5" stroke-width="0.9"/>
<circle cx="652.0" cy="115.1" r="3.05" fill="#000" fill-opacity="0.5" stroke="#000" stroke-opacity="0.5" stroke-width="0.9"/>
<circle cx="627.2" cy="155.4" r="3.05" fill="#000" fill-opacity="0.5" stroke="#000" stroke-opacity="0.5" stroke-width="0.9"/>
<circle cx="621.7" cy="51.6" r="3.05" fill="#000" fill-opacity="0.5" stroke="#000" stroke-opacity="0.5" stroke-width="0.9"/>
<circle cx="625.3" cy="70.1" r="3.05" fill="#000" fill-opacity="0.5" stroke="#000" stroke-opacity="0.5" stroke-width="0.9"/>
<circle cx="628.1" cy="84.4" r="3.05" fill="#000" fill-opacity="0.5" stroke="#000" stroke-opacity="0.5" stroke-width="0.9"/>
<circle cx="629.6" cy="88.0" r="3.05" fill="#000" fill-opacity="0.5" stroke="#000" stroke-opacity="0.5" stroke-width="0.9"/>
<circle cx="621.9" cy="126.9" r="3.05" fill="#000" fill-opacity="0.5" stroke="#000" stroke-opacity="0.5" stroke-width="0.9"/>
<circle cx="629.6" cy="92.3" r="3.05" fill="#000" fill-opacity="0.5" stroke="#000" stroke-opacity="0.5" stroke-width="0.9"/>
<circle cx="623.1" cy="91.6" r="3.05" fill="#000" fill-opacity="0.5" stroke="#000" stroke-opacity="0.5" stroke-width="0.9"/>
<circle cx="624.8" cy="100.4" r="3.05" fill="#000" fill-opacity="0.5" stroke="#000" stroke-opacity="0.5" stroke-width="0.9"/>
<circle cx="623.1" cy="95.1" r="3.05" fill="#000" fill-opacity="0.5" stroke="#000" stroke-opacity="0.5" stroke-width="0.9"/>
<circle cx="620.3" cy="97.3" r="3.05" fill="#000" fill-opacity="0.5" stroke="#000" stroke-opacity="0.5" stroke-width="0.9"/>
<circle cx="629.3" cy="92.5" r="3.05" fill="#000" fill-opacity="0.5" stroke="#000" stroke-opacity="0.5" stroke-width="0.9"/>
<circle cx="619.5" cy="98.6" r="3.05" fill="#000" fill-opacity="0.5" stroke="#000" stroke-opacity="0.5" stroke-width="0.9"/>
<circle cx="624.4" cy="98.0" r="3.05" fill="#000" fill-opacity="0.5" stroke="#000" stroke-opacity="0.5" stroke-width="0.9"/>
<circle cx="629.3" cy="99.2" r="3.05" fill="#000" fill-opacity="0.5" stroke="#000" stroke-opacity="0.5" stroke-width="0.9"/>
<circle cx="620.7" cy="103.5" r="3.05" fill="#000" fill-opacity="0.5" stroke="#000" stroke-opacity="0.5" stroke-width="0.9"/>
<circle cx="627.4" cy="106.5" r="3.05" fill="#000" fill-opacity="0.5" stroke="#000" stroke-opacity="0.5" stroke-width="0.9"/>
<circle cx="651.0" cy="132.3" r="3.05" fill="#000" fill-opacity="0.5" stroke="#000" stroke-opacity="0.5" stroke-width="0.9"/>
<circle cx="620.7" cy="111.4" r="3.05" fill="#000" fill-opacity="0.5" stroke="#000" stroke-opacity="0.5" stroke-width="0.9"/>
<circle cx="628.7" cy="113.3" r="3.05" fill="#000" fill-opacity="0.5" stroke="#000" stroke-opacity="0.5" stroke-width="0.9"/>
<circle cx="623.2" cy="115.7" r="3.05" fill="#000" fill-opacity="0.5" stroke="#000" stroke-opacity="0.5" stroke-width="0.9"/>
<circle cx="649.0" cy="112.3" r="3.05" fill="#000" fill-opacity="0.5" stroke="#000" stroke-opacity="0.5" stroke-width="0.9"/>
<circle cx="629.9" cy="118.2" r="3.05" fill="#000" fill-opacity="0.5" stroke="#000" stroke-opacity="0.5" stroke-width="0.9"/>
<circle cx="625.0" cy="120.0" r="3.05" fill="#000" fill-opacity="0.5" stroke="#000" stroke-opacity="0.5" stroke-width="0.9"/>
<circle cx="619.5" cy="132.3" r="3.05" fill="#000" fill-opacity="0.5" stroke="#000" stroke-opacity="0.5" stroke-width="0.9"/>
<circle cx="629.3" cy="132.9" r="3.05" fill="#000" fill-opacity="0.5" stroke="#000" stroke-opacity="0.5" stroke-width="0.9"/>
<circle cx="625.6" cy="139.6" r="3.05" fill="#000" fill-opacity="0.5" stroke="#000" stroke-opacity="0.5" stroke-width="0.9"/>
<circle cx="628.1" cy="142.7" r="3.05" fill="#000" fill-opacity="0.5" stroke="#000" stroke-opacity="0.5" stroke-width="0.9"/>
<circle cx="620.7" cy="146.4" r="3.05" fill="#000" fill-opacity="0.5" stroke="#000" stroke-opacity="0.5" stroke-width="0.9"/>
<circle cx="645.6" cy="104.8" r="3.05" fill="#000" fill-opacity="0.5" stroke="#000" stroke-opacity="0.5" stroke-width="0.9"/>
<circle cx="628.7" cy="147.6" r="3.05" fill="#000" fill-opacity="0.5" stroke="#000" stroke-opacity="0.5" stroke-width="0.9"/>
<circle cx="626.9" cy="142.5" r="3.05" fill="#000" fill-opacity="0.5" stroke="#000" stroke-opacity="0.5" stroke-width="0.9"/>
<circle cx="620.9" cy="152.7" r="3.05" fill="#000" fill-opacity="0.5" stroke="#000" stroke-opacity="0.5" stroke-width="0.9"/>
<circle cx="623.9" cy="90.8" r="3.05" fill="#000" fill-opacity="0.5" stroke="#000" stroke-opacity="0.5" stroke-width="0.9"/>
<circle cx="620.6" cy="157.7" r="3.05" fill="#000" fill-opacity="0.5" stroke="#000" stroke-opacity="0.5" stroke-width="0.9"/>
<circle cx="622.4" cy="161.5" r="3.05" fill="#000" fill-opacity="0.5" stroke="#000" stroke-opacity="0.5" stroke-width="0.9"/>
<circle cx="625.0" cy="162.8" r="3.05" fill="#000" fill-opacity="0.5" stroke="#000" stroke-opacity="0.5" stroke-width="0.9"/>
<circle cx="629.4" cy="164.7" r="3.05" fill="#000" fill-opacity="0.5" stroke="#000" stroke-opacity="0.5" stroke-width="0.9"/>
<circle cx="619.3" cy="166.6" r="3.05" fill="#000" fill-opacity="0.5" stroke="#000" stroke-opacity="0.5" stroke-width="0.9"/>
<circle cx="625.0" cy="167.2" r="3.05" fill="#000" fill-opacity="0.5" stroke="#000" stroke-opacity="0.5" stroke-width="0.9"/>
<circle cx="619.9" cy="171.0" r="3.05" fill="#000" fill-opacity="0.5" stroke="#000" stroke-opacity="0.5" stroke-width="0.9"/>
<circle cx="620.6" cy="175.4" r="3.05" fill="#000" fill-opacity="0.5" stroke="#000" stroke-opacity="0.5" stroke-width="0.9"/>
<circle cx="628.1" cy="175.4" r="3.05" fill="#000" fill-opacity="0.5" stroke="#000" stroke-opacity="0.5" stroke-width="0.9"/>
<circle cx="628.0" cy="90.4" r="3.05" fill="#000" fill-opacity="0.5" stroke="#000" stroke-opacity="0.5" stroke-width="0.9"/>
<circle cx="623.7" cy="176.7" r="3.05" fill="#000" fill-opacity="0.5" stroke="#000" stroke-opacity="0.5" stroke-width="0.9"/>
<circle cx="619.9" cy="180.5" r="3.05" fill="#000" fill-opacity="0.5" stroke="#000" stroke-opacity="0.5" stroke-width="0.9"/>
<circle cx="622.4" cy="181.8" r="3.05" fill="#000" fill-opacity="0.5" stroke="#000" stroke-opacity="0.5" stroke-width="0.9"/>
<circle cx="619.9" cy="185.6" r="3.05" fill="#000" fill-opacity="0.5" stroke="#000" stroke-opacity="0.5" stroke-width="0.9"/>
<circle cx="622.4" cy="190.6" r="3.05" fill="#000" fill-opacity="0.5" stroke="#000" stroke-opacity="0.5" stroke-width="0.9"/>
<circle cx="628.1" cy="192.1" r="3.05" fill="#000" fill-opacity="0.5" stroke="#000" stroke-opacity="0.5" stroke-width="0.9"/>
<circle cx="623.0" cy="126.0" r="3.05" fill="#000" fill-opacity="0.5" stroke="#000" stroke-opacity="0.5" stroke-width="0.9"/>
<circle cx="627.0" cy="129.0" r="3.05" fill="#000" fill-opacity="0.5" stroke="#000" stroke-opacity="0.5" stroke-width="0.9"/>
<circle cx="646.7" cy="42.0" r="3.05" fill="#000" fill-opacity="0.5" stroke="#000" stroke-opacity="0.5" stroke-width="0.9"/>
<circle cx="650.1" cy="140.6" r="3.05" fill="#000" fill-opacity="0.5" stroke="#000" stroke-opacity="0.5" stroke-width="0.9"/>
<circle cx="648.9" cy="56.6" r="3.05" fill="#000" fill-opacity="0.5" stroke="#000" stroke-opacity="0.5" stroke-width="0.9"/>
<circle cx="653.9" cy="57.7" r="3.05" fill="#000" fill-opacity="0.5" stroke="#000" stroke-opacity="0.5" stroke-width="0.9"/>
<circle cx="651.7" cy="82.3" r="3.05" fill="#000" fill-opacity="0.5" stroke="#000" stroke-opacity="0.5" stroke-width="0.9"/>
<circle cx="646.7" cy="83.7" r="3.05" fill="#000" fill-opacity="0.5" stroke="#000" stroke-opacity="0.5" stroke-width="0.9"/>
<circle cx="645.3" cy="88.7" r="3.05" fill="#000" fill-opacity="0.5" stroke="#000" stroke-opacity="0.5" stroke-width="0.9"/>
<circle cx="646.0" cy="93.0" r="3.05" fill="#000" fill-opacity="0.5" stroke="#000" stroke-opacity="0.5" stroke-width="0.9"/>
<circle cx="654.6" cy="93.4" r="3.05" fill="#000" fill-opacity="0.5" stroke="#000" stroke-opacity="0.5" stroke-width="0.9"/>
<circle cx="645.2" cy="91.2" r="3.05" fill="#000" fill-opacity="0.5" stroke="#000" stroke-opacity="0.5" stroke-width="0.9"/>
<circle cx="654.4" cy="93.7" r="3.05" fill="#000" fill-opacity="0.5" stroke="#000" stroke-opacity="0.5" stroke-width="0.9"/>
<circle cx="646.4" cy="98.6" r="3.05" fill="#000" fill-opacity="0.5" stroke="#000" stroke-opacity="0.5" stroke-width="0.9"/>
<circle cx="652.6" cy="97.4" r="3.05" fill="#000" fill-opacity="0.5" stroke="#000" stroke-opacity="0.5" stroke-width="0.9"/>
<circle cx="647.7" cy="103.5" r="3.05" fill="#000" fill-opacity="0.5" stroke="#000" stroke-opacity="0.5" stroke-width="0.9"/>
<circle cx="629.3" cy="146.8" r="3.05" fill="#000" fill-opacity="0.5" stroke="#000" stroke-opacity="0.5" stroke-width="0.9"/>
<circle cx="653.8" cy="108.4" r="3.05" fill="#000" fill-opacity="0.5" stroke="#000" stroke-opacity="0.5" stroke-width="0.9"/>
<circle cx="646.4" cy="110.2" r="3.05" fill="#000" fill-opacity="0.5" stroke="#000" stroke-opacity="0.5" stroke-width="0.9"/>
<circle cx="650.1" cy="113.3" r="3.05" fill="#000" fill-opacity="0.5" stroke="#000" stroke-opacity="0.5" stroke-width="0.9"/>
<circle cx="655.6" cy="113.9" r="3.05" fill="#000" fill-opacity="0.5" stroke="#000" stroke-opacity="0.5" stroke-width="0.9"/>
<circle cx="647.0" cy="114.5" r="3.05" fill="#000" fill-opacity="0.5" stroke="#000" stroke-opacity="0.5" stroke-width="0.9"/>
<circle cx="652.0" cy="118.2" r="3.05" fill="#000" fill-opacity="0.5" stroke="#000" stroke-opacity="0.5" stroke-width="0.9"/>
<circle cx="645.8" cy="122.5" r="3.05" fill="#000" fill-opacity="0.5" stroke="#000" stroke-opacity="0.5" stroke-width="0.9"/>
<circle cx="650.1" cy="123.1" r="3.05" fill="#000" fill-opacity="0.5" stroke="#000" stroke-opacity="0.5" stroke-width="0.9"/>
<circle cx="646.4" cy="126.8" r="3.05" fill="#000" fill-opacity="0.5" stroke="#000" stroke-opacity="0.5" stroke-width="0.9"/>
<circle cx="645.2" cy="136.6" r="3.05" fill="#000" fill-opacity="0.5" stroke="#000" stroke-opacity="0.5" stroke-width="0.9"/>
<circle cx="654.4" cy="140.2" r="3.05" fill="#000" fill-opacity="0.5" stroke="#000" stroke-opacity="0.5" stroke-width="0.9"/>
<circle cx="648.3" cy="140.2" r="3.05" fill="#000" fill-opacity="0.5" stroke="#000" stroke-opacity="0.5" stroke-width="0.9"/>
<circle cx="650.1" cy="146.4" r="3.05" fill="#000" fill-opacity="0.5" stroke="#000" stroke-opacity="0.5" stroke-width="0.9"/>
<circle cx="655.0" cy="148.8" r="3.05" fill="#000" fill-opacity="0.5" stroke="#000" stroke-opacity="0.5" stroke-width="0.9"/>
<circle cx="644.6" cy="141.3" r="3.05" fill="#000" fill-opacity="0.5" stroke="#000" stroke-opacity="0.5" stroke-width="0.9"/>
<circle cx="653.5" cy="141.3" r="3.05" fill="#000" fill-opacity="0.5" stroke="#000" stroke-opacity="0.5" stroke-width="0.9"/>
<circle cx="650.9" cy="146.3" r="3.05" fill="#000" fill-opacity="0.5" stroke="#000" stroke-opacity="0.5" stroke-width="0.9"/>
<circle cx="625.2" cy="128.4" r="3.05" fill="#000" fill-opacity="0.5" stroke="#000" stroke-opacity="0.5" stroke-width="0.9"/>
<circle cx="649.0" cy="152.0" r="3.05" fill="#000" fill-opacity="0.5" stroke="#000" stroke-opacity="0.5" stroke-width="0.9"/>
<circle cx="654.7" cy="150.1" r="3.05" fill="#000" fill-opacity="0.5" stroke="#000" stroke-opacity="0.5" stroke-width="0.9"/>
<circle cx="652.8" cy="152.7" r="3.05" fill="#000" fill-opacity="0.5" stroke="#000" stroke-opacity="0.5" stroke-width="0.9"/>
<circle cx="648.1" cy="123.9" r="3.05" fill="#000" fill-opacity="0.5" stroke="#000" stroke-opacity="0.5" stroke-width="0.9"/>
<circle cx="646.5" cy="160.2" r="3.05" fill="#000" fill-opacity="0.5" stroke="#000" stroke-opacity="0.5" stroke-width="0.9"/>
<circle cx="627.5" cy="157.3" r="3.05" fill="#000" fill-opacity="0.5" stroke="#000" stroke-opacity="0.5" stroke-width="0.9"/>
<circle cx="650.9" cy="160.2" r="3.05" fill="#000" fill-opacity="0.5" stroke="#000" stroke-opacity="0.5" stroke-width="0.9"/>
<circle cx="654.1" cy="162.1" r="3.05" fill="#000" fill-opacity="0.5" stroke="#000" stroke-opacity="0.5" stroke-width="0.9"/>
<circle cx="645.2" cy="164.7" r="3.05" fill="#000" fill-opacity="0.5" stroke="#000" stroke-opacity="0.5" stroke-width="0.9"/>
<circle cx="655.3" cy="165.9" r="3.05" fill="#000" fill-opacity="0.5" stroke="#000" stroke-opacity="0.5" stroke-width="0.9"/>
<circle cx="647.1" cy="167.2" r="3.05" fill="#000" fill-opacity="0.5" stroke="#000" stroke-opacity="0.5" stroke-width="0.9"/>
<circle cx="645.2" cy="171.6" r="3.05" fill="#000" fill-opacity="0.5" stroke="#000" stroke-opacity="0.5" stroke-width="0.9"/>
<circle cx="654.7" cy="174.8" r="3.05" fill="#000" fill-opacity="0.5" stroke="#000" stroke-opacity="0.5" stroke-width="0.9"/>
<circle cx="653.5" cy="178.0" r="3.05" fill="#000" fill-opacity="0.5" stroke="#000" stroke-opacity="0.5" stroke-width="0.9"/>
<circle cx="627.8" cy="156.3" r="3.05" fill="#000" fill-opacity="0.5" stroke="#000" stroke-opacity="0.5" stroke-width="0.9"/>
<circle cx="646.5" cy="183.0" r="3.05" fill="#000" fill-opacity="0.5" stroke="#000" stroke-opacity="0.5" stroke-width="0.9"/>
<circle cx="654.7" cy="183.7" r="3.05" fill="#000" fill-opacity="0.5" stroke="#000" stroke-opacity="0.5" stroke-width="0.9"/>
<circle cx="650.9" cy="185.6" r="3.05" fill="#000" fill-opacity="0.5" stroke="#000" stroke-opacity="0.5" stroke-width="0.9"/>
<circle cx="647.1" cy="191.9" r="3.05" fill="#000" fill-opacity="0.5" stroke="#000" stroke-opacity="0.5" stroke-width="0.9"/>
<circle cx="648.0" cy="130.0" r="3.05" fill="#000" fill-opacity="0.5" stroke="#000" stroke-opacity="0.5" stroke-width="0.9"/>
<circle cx="653.0" cy="134.0" r="3.05" fill="#000" fill-opacity="0.5" stroke="#000" stroke-opacity="0.5" stroke-width="0.9"/>
<path d="M625,122.19999999999999 L632.0,129.2 L625,136.2 L618.0,129.2 Z" fill="#8B0000"/>
<path d="M650.1,125.30000000000001 L657.1,132.3 L650.1,139.3 L643.1,132.3 Z" fill="#8B0000"/>
<rect x="609.7" y="31.3" width="55.70" height="168.90" fill="none" stroke="#363636" stroke-width="1.2"/>
<line x1="605.30" x2="609.7" y1="163" y2="163" stroke="#363636" stroke-width="1.35"/>
<text x="601.30" y="167.70" font-size="14.8" fill="#4D4D4D" text-anchor="end" >500</text>
<line x1="605.30" x2="609.7" y1="109.6" y2="109.6" stroke="#363636" stroke-width="1.35"/>
<text x="601.30" y="114.30" font-size="14.8" fill="#4D4D4D" text-anchor="end" >1000</text>
<line x1="605.30" x2="609.7" y1="57.2" y2="57.2" stroke="#363636" stroke-width="1.35"/>
<text x="601.30" y="61.90" font-size="14.8" fill="#4D4D4D" text-anchor="end" >1500</text>
<line x1="624.8" x2="624.8" y1="200.2" y2="204.60" stroke="#363636" stroke-width="1.35"/>
<text x="624.80" y="217.20" font-size="14" fill="#4D4D4D" text-anchor="middle" >C</text>
<line x1="650.4" x2="650.4" y1="200.2" y2="204.60" stroke="#363636" stroke-width="1.35"/>
<text x="650.40" y="217.20" font-size="14" fill="#4D4D4D" text-anchor="middle" >P</text>
<text x="611.83" y="238.00" font-size="16.3" fill="#000" text-anchor="start" textLength="51.25" lengthAdjust="spacingAndGlyphs" >Group</text>
<text x="597.82" y="17.40" font-size="16.3" fill="#000" text-anchor="start" textLength="86.50" lengthAdjust="spacingAndGlyphs" >p=7.26E-02</text>
<text x="561.80" y="163.96" font-size="16.3" fill="#000" text-anchor="start" textLength="96.25" lengthAdjust="spacingAndGlyphs" transform="rotate(-90 561.80 163.96)" >InvSimpson</text>
<line x1="135.55" x2="135.55" y1="285.5" y2="434.5" stroke="#EBEBEB" stroke-width="0.9"/>
<line x1="210.87" x2="210.87" y1="285.5" y2="434.5" stroke="#EBEBEB" stroke-width="0.9"/>
<line x1="286.19" x2="286.19" y1="285.5" y2="434.5" stroke="#EBEBEB" stroke-width="0.9"/>
<line x1="361.51" x2="361.51" y1="285.5" y2="434.5" stroke="#EBEBEB" stroke-width="0.9"/>
<line x1="436.83" x2="436.83" y1="285.5" y2="434.5" stroke="#EBEBEB" stroke-width="0.9"/>
<line x1="512.15" x2="512.15" y1="285.5" y2="434.5" stroke="#EBEBEB" stroke-width="0.9"/>
<line x1="84.5" x2="566.5" y1="431.10" y2="431.10" stroke="#EBEBEB" stroke-width="0.9"/>
<line x1="84.5" x2="566.5" y1="400.10" y2="400.10" stroke="#EBEBEB" stroke-width="0.9"/>
<line x1="84.5" x2="566.5" y1="369.10" y2="369.10" stroke="#EBEBEB" stroke-width="0.9"/>
<line x1="84.5" x2="566.5" y1="338.10" y2="338.10" stroke="#EBEBEB" stroke-width="0.9"/>
<line x1="84.5" x2="566.5" y1="307.10" y2="307.10" stroke="#EBEBEB" stroke-width="0.9"/>
<line x1="97.89" x2="97.89" y1="285.5" y2="434.5" stroke="#EBEBEB" stroke-width="1.5"/>
<line x1="173.21" x2="173.21" y1="285.5" y2="434.5" stroke="#EBEBEB" stroke-width="1.5"/>
<line x1="248.53" x2="248.53" y1="285.5" y2="434.5" stroke="#EBEBEB" stroke-width="1.5"/>
<line x1="323.85" x2="323.85" y1="285.5" y2="434.5" stroke="#EBEBEB" stroke-width="1.5"/>
<line x1="399.17" x2="399.17" y1="285.5" y2="434.5" stroke="#EBEBEB" stroke-width="1.5"/>
<line x1="474.49" x2="474.49" y1="285.5" y2="434.5" stroke="#EBEBEB" stroke-width="1.5"/>
<line x1="549.81" x2="549.81" y1="285.5" y2="434.5" stroke="#EBEBEB" stroke-width="1.5"/>
<line x1="84.5" x2="566.5" y1="415.60" y2="415.60" stroke="#EBEBEB" stroke-width="1.5"/>
<line x1="84.5" x2="566.5" y1="384.60" y2="384.60" stroke="#EBEBEB" stroke-width="1.5"/>
<line x1="84.5" x2="566.5" y1="353.60" y2="353.60" stroke="#EBEBEB" stroke-width="1.5"/>
<line x1="84.5" x2="566.5" y1="322.60" y2="322.60" stroke="#EBEBEB" stroke-width="1.5"/>
<line x1="84.5" x2="566.5" y1="291.60" y2="291.60" stroke="#EBEBEB" stroke-width="1.5"/>
<clipPath id="pc"><rect x="84.5" y="285.5" width="482.0" height="149.0"/></clipPath>
<g clip-path="url(#pc)">
<circle cx="183.4" cy="388.1" r="6.05" fill="#F8766D"/>
<circle cx="176.7" cy="367" r="6.05" fill="#F8766D"/>
<circle cx="188" cy="356" r="6.05" fill="#F8766D"/>
<circle cx="193.3" cy="358.5" r="6.05" fill="#F8766D"/>
<circle cx="204.5" cy="353.3" r="6.05" fill="#F8766D"/>
<circle cx="191.3" cy="372.6" r="6.05" fill="#F8766D"/>
<circle cx="202" cy="371.5" r="6.05" fill="#F8766D"/>
<circle cx="208" cy="371.8" r="6.05" fill="#F8766D"/>
<circle cx="212.6" cy="368.1" r="6.05" fill="#F8766D"/>
<circle cx="222.2" cy="371.6" r="6.05" fill="#F8766D"/>
<circle cx="218.7" cy="390.2" r="6.05" fill="#F8766D"/>
<circle cx="215.2" cy="362" r="6.05" fill="#F8766D"/>
<circle cx="217.8" cy="355.1" r="6.05" fill="#F8766D"/>
<circle cx="215.2" cy="340.7" r="6.05" fill="#F8766D"/>
<circle cx="221.3" cy="347.2" r="6.05" fill="#F8766D"/>
<circle cx="225.5" cy="327.4" r="6.05" fill="#F8766D"/>
<circle cx="238.8" cy="334.9" r="6.05" fill="#F8766D"/>
<circle cx="245" cy="319.7" r="6.05" fill="#F8766D"/>
<circle cx="252" cy="327.6" r="6.05" fill="#F8766D"/>
<circle cx="247.6" cy="335.8" r="6.05" fill="#F8766D"/>
<circle cx="254.6" cy="331.4" r="6.05" fill="#F8766D"/>
<circle cx="242.3" cy="347.2" r="6.05" fill="#F8766D"/>
<circle cx="255.5" cy="353.3" r="6.05" fill="#F8766D"/>
<circle cx="247" cy="358.5" r="6.05" fill="#F8766D"/>
<circle cx="259.9" cy="370.8" r="6.05" fill="#F8766D"/>
<circle cx="276.6" cy="319.7" r="6.05" fill="#F8766D"/>
<circle cx="280.2" cy="331.2" r="6.05" fill="#F8766D"/>
<circle cx="319.1" cy="291.1" r="6.05" fill="#F8766D"/>
<circle cx="317" cy="319.7" r="6.05" fill="#F8766D"/>
<circle cx="325.7" cy="325.3" r="6.05" fill="#F8766D"/>
<circle cx="288.4" cy="330.9" r="6.05" fill="#F8766D"/>
<circle cx="294.5" cy="333.2" r="6.05" fill="#F8766D"/>
<circle cx="298.9" cy="330.2" r="6.05" fill="#F8766D"/>
<circle cx="303.3" cy="332" r="6.05" fill="#F8766D"/>
<circle cx="295.9" cy="335.8" r="6.05" fill="#F8766D"/>
<circle cx="367.2" cy="308.7" r="6.05" fill="#F8766D"/>
<circle cx="372.5" cy="303.4" r="6.05" fill="#F8766D"/>
<circle cx="353.2" cy="334.9" r="6.05" fill="#F8766D"/>
<circle cx="370.7" cy="339" r="6.05" fill="#F8766D"/>
<circle cx="316.4" cy="344.6" r="6.05" fill="#F8766D"/>
<circle cx="322.6" cy="344.6" r="6.05" fill="#F8766D"/>
<circle cx="331.3" cy="352.4" r="6.05" fill="#F8766D"/>
<circle cx="385.6" cy="352.4" r="6.05" fill="#F8766D"/>
<circle cx="316.4" cy="356.8" r="6.05" fill="#F8766D"/>
<circle cx="305.9" cy="354.2" r="6.05" fill="#F8766D"/>
<circle cx="350.6" cy="363.5" r="6.05" fill="#F8766D"/>
<circle cx="369" cy="369" r="6.05" fill="#F8766D"/>
<circle cx="280" cy="383.9" r="6.05" fill="#F8766D"/>
<circle cx="293.7" cy="383.9" r="6.05" fill="#F8766D"/>
<circle cx="294.5" cy="389.2" r="6.05" fill="#F8766D"/>
<circle cx="300.1" cy="397.9" r="6.05" fill="#F8766D"/>
<circle cx="346.7" cy="399.1" r="6.05" fill="#F8766D"/>
<circle cx="450.1" cy="311.3" r="6.05" fill="#F8766D"/>
<circle cx="471.3" cy="332.3" r="6.05" fill="#F8766D"/>
<circle cx="490.2" cy="330.9" r="6.05" fill="#F8766D"/>
<circle cx="502.1" cy="320.8" r="6.05" fill="#F8766D"/>
<circle cx="513.7" cy="330" r="6.05" fill="#F8766D"/>
<circle cx="544.9" cy="360.8" r="6.05" fill="#F8766D"/>
<circle cx="544" cy="370.6" r="6.05" fill="#F8766D"/>
<circle cx="446.2" cy="346.3" r="6.05" fill="#F8766D"/>
<circle cx="223.2" cy="378.8" r="6.05" fill="#00BFC4"/>
<circle cx="229.2" cy="389.2" r="6.05" fill="#00BFC4"/>
<circle cx="232.7" cy="389.2" r="6.05" fill="#00BFC4"/>
<circle cx="232.7" cy="368.5" r="6.05" fill="#00BFC4"/>
<circle cx="236.2" cy="362" r="6.05" fill="#00BFC4"/>
<circle cx="251" cy="361" r="6.05" fill="#00BFC4"/>
<circle cx="264" cy="363" r="6.05" fill="#00BFC4"/>
<circle cx="273" cy="384.8" r="6.05" fill="#00BFC4"/>
<circle cx="277.8" cy="357" r="6.05" fill="#00BFC4"/>
<circle cx="267.7" cy="322.7" r="6.05" fill="#00BFC4"/>
<circle cx="263.4" cy="330.2" r="6.05" fill="#00BFC4"/>
<circle cx="273.9" cy="343.7" r="6.05" fill="#00BFC4"/>
<circle cx="252.9" cy="345.4" r="6.05" fill="#00BFC4"/>
<circle cx="248.5" cy="351.2" r="6.05" fill="#00BFC4"/>
<circle cx="346.2" cy="306.9" r="6.05" fill="#00BFC4"/>
<circle cx="347.1" cy="317.4" r="6.05" fill="#00BFC4"/>
<circle cx="352.3" cy="317.4" r="6.05" fill="#00BFC4"/>
<circle cx="355.8" cy="325.6" r="6.05" fill="#00BFC4"/>
<circle cx="374.2" cy="315.1" r="6.05" fill="#00BFC4"/>
<circle cx="322.6" cy="327.4" r="6.05" fill="#00BFC4"/>
<circle cx="334.8" cy="329.7" r="6.05" fill="#00BFC4"/>
<circle cx="345" cy="338.4" r="6.05" fill="#00BFC4"/>
<circle cx="348" cy="346.3" r="6.05" fill="#00BFC4"/>
<circle cx="355.8" cy="352.1" r="6.05" fill="#00BFC4"/>
<circle cx="380.7" cy="337.2" r="6.05" fill="#00BFC4"/>
<circle cx="312" cy="335.8" r="6.05" fill="#00BFC4"/>
<circle cx="304.2" cy="341.4" r="6.05" fill="#00BFC4"/>
<circle cx="326.9" cy="339.3" r="6.05" fill="#00BFC4"/>
<circle cx="327.8" cy="343.7" r="6.05" fill="#00BFC4"/>
<circle cx="333.1" cy="348.1" r="6.05" fill="#00BFC4"/>
<circle cx="284" cy="337.2" r="6.05" fill="#00BFC4"/>
<circle cx="303.3" cy="345.4" r="6.05" fill="#00BFC4"/>
<circle cx="294.5" cy="349.8" r="6.05" fill="#00BFC4"/>
<circle cx="288.4" cy="354.6" r="6.05" fill="#00BFC4"/>
<circle cx="299" cy="361" r="6.05" fill="#00BFC4"/>
<circle cx="312" cy="360.8" r="6.05" fill="#00BFC4"/>
<circle cx="326.5" cy="361.5" r="6.05" fill="#00BFC4"/>
<circle cx="373.4" cy="365.5" r="6.05" fill="#00BFC4"/>
<circle cx="312" cy="384.4" r="6.05" fill="#00BFC4"/>
<circle cx="322.2" cy="379.2" r="6.05" fill="#00BFC4"/>
<circle cx="326.9" cy="391.8" r="6.05" fill="#00BFC4"/>
<circle cx="359.3" cy="407.2" r="6.05" fill="#00BFC4"/>
<circle cx="374.2" cy="395.6" r="6.05" fill="#00BFC4"/>
<circle cx="380.5" cy="390.9" r="6.05" fill="#00BFC4"/>
<circle cx="378" cy="407.6" r="6.05" fill="#00BFC4"/>
<circle cx="415" cy="325.6" r="6.05" fill="#00BFC4"/>
<circle cx="441.3" cy="332" r="6.05" fill="#00BFC4"/>
<circle cx="461.5" cy="331.4" r="6.05" fill="#00BFC4"/>
<circle cx="423.4" cy="346.3" r="6.05" fill="#00BFC4"/>
<circle cx="393.1" cy="362.5" r="6.05" fill="#00BFC4"/>
<circle cx="417.9" cy="378.7" r="6.05" fill="#00BFC4"/>
<circle cx="434.7" cy="370" r="6.05" fill="#00BFC4"/>
<circle cx="436.4" cy="381.5" r="6.05" fill="#00BFC4"/>
<circle cx="442.9" cy="384.4" r="6.05" fill="#00BFC4"/>
<circle cx="414" cy="398.8" r="6.05" fill="#00BFC4"/>
<circle cx="409.9" cy="427.7" r="6.05" fill="#00BFC4"/>
<circle cx="473.8" cy="426.8" r="6.05" fill="#00BFC4"/>
<circle cx="506.1" cy="365.1" r="6.05" fill="#00BFC4"/>
<circle cx="514.3" cy="376.1" r="6.05" fill="#00BFC4"/>
<circle cx="503.6" cy="381.3" r="6.05" fill="#00BFC4"/>
<circle cx="536.7" cy="362.1" r="6.05" fill="#00BFC4"/>
<circle cx="534.8" cy="372.8" r="6.05" fill="#00BFC4"/>
<circle cx="265.5" cy="367" r="6.05" fill="#00BFC4"/>
<circle cx="303.5" cy="351.5" r="6.05" fill="#00BFC4"/>
<circle cx="349.5" cy="311.8" r="6.05" fill="#00BFC4"/>
<ellipse cx="287.96" cy="348.09" rx="183.58" ry="48.56" transform="rotate(-5.78 287.96 348.09)" fill="none" stroke="#F8766D" stroke-width="1.45"/>
<ellipse cx="334.92" cy="355.65" rx="170.14" ry="58.23" transform="rotate(3.52 334.92 355.65)" fill="none" stroke="#00BFC4" stroke-width="1.45"/>
</g>
<rect x="84.5" y="285.5" width="482.00" height="149.00" fill="none" stroke="#363636" stroke-width="1.0"/>
<line x1="80.10" x2="84.5" y1="415.60" y2="415.60" stroke="#363636" stroke-width="1.4"/>
<text x="76.10" y="420.30" font-size="14.8" fill="#4D4D4D" text-anchor="end" >-200</text>
<line x1="80.10" x2="84.5" y1="384.60" y2="384.60" stroke="#363636" stroke-width="1.4"/>
<text x="76.10" y="389.30" font-size="14.8" fill="#4D4D4D" text-anchor="end" >-100</text>
<line x1="80.10" x2="84.5" y1="353.60" y2="353.60" stroke="#363636" stroke-width="1.4"/>
<text x="76.10" y="358.30" font-size="14.8" fill="#4D4D4D" text-anchor="end" >0</text>
<line x1="80.10" x2="84.5" y1="322.60" y2="322.60" stroke="#363636" stroke-width="1.4"/>
<text x="76.10" y="327.30" font-size="14.8" fill="#4D4D4D" text-anchor="end" >100</text>
<line x1="80.10" x2="84.5" y1="291.60" y2="291.60" stroke="#363636" stroke-width="1.4"/>
<text x="76.10" y="296.30" font-size="14.8" fill="#4D4D4D" text-anchor="end" >200</text>
<line x1="97.89" x2="97.89" y1="434.5" y2="438.90" stroke="#363636" stroke-width="1.4"/>
<text x="97.89" y="451.90" font-size="14.8" fill="#4D4D4D" text-anchor="middle" >-300</text>
<line x1="173.21" x2="173.21" y1="434.5" y2="438.90" stroke="#363636" stroke-width="1.4"/>
<text x="173.21" y="451.90" font-size="14.8" fill="#4D4D4D" text-anchor="middle" >-200</text>
<line x1="248.53" x2="248.53" y1="434.5" y2="438.90" stroke="#363636" stroke-width="1.4"/>
<text x="248.53" y="451.90" font-size="14.8" fill="#4D4D4D" text-anchor="middle" >-100</text>
<line x1="323.85" x2="323.85" y1="434.5" y2="438.90" stroke="#363636" stroke-width="1.4"/>
<text x="323.85" y="451.90" font-size="14.8" fill="#4D4D4D" text-anchor="middle" >0</text>
<line x1="399.17" x2="399.17" y1="434.5" y2="438.90" stroke="#363636" stroke-width="1.4"/>
<text x="399.17" y="451.90" font-size="14.8" fill="#4D4D4D" text-anchor="middle" >100</text>
<line x1="474.49" x2="474.49" y1="434.5" y2="438.90" stroke="#363636" stroke-width="1.4"/>
<text x="474.49" y="451.90" font-size="14.8" fill="#4D4D4D" text-anchor="middle" >200</text>
<line x1="549.81" x2="549.81" y1="434.5" y2="438.90" stroke="#363636" stroke-width="1.4"/>
<text x="549.81" y="451.90" font-size="14.8" fill="#4D4D4D" text-anchor="middle" >300</text>
<text x="273.56" y="485.20" font-size="16.3" fill="#000" text-anchor="start" textLength="84.56" lengthAdjust="spacingAndGlyphs" >PC1 [6.3%]</text>
<text x="25.40" y="411.94" font-size="16.3" fill="#000" text-anchor="start" textLength="84.66" lengthAdjust="spacingAndGlyphs" transform="rotate(-90 25.40 411.94)" >PC2 [3.2%]</text>
<text x="591.40" y="335.70" font-size="15.5" fill="#000" text-anchor="start" textLength="49.30" lengthAdjust="spacingAndGlyphs" >Group</text>
<line x1="594" x2="615.3" y1="358.5" y2="358.5" stroke="#F8766D" stroke-width="1.2"/>
<circle cx="604.7" cy="358.5" r="6.05" fill="#F8766D"/>
<text x="625.40" y="363.30" font-size="13.5" fill="#000" text-anchor="start" >C</text>
<line x1="594" x2="615.3" y1="384.8" y2="384.8" stroke="#00BFC4" stroke-width="1.2"/>
<circle cx="604.7" cy="384.8" r="6.05" fill="#00BFC4"/>
<text x="625.40" y="389.60" font-size="13.5" fill="#000" text-anchor="start" >P</text>
<text x="587.72" y="414.20" font-size="16.2" fill="#000" text-anchor="start" textLength="92.78" lengthAdjust="spacingAndGlyphs" >p=2.00E-04*</text>
<text x="587.46" y="436.80" font-size="16.2" fill="#000" text-anchor="start" textLength="91.68" lengthAdjust="spacingAndGlyphs" >R2=0.01284</text>
</svg></body></html>
